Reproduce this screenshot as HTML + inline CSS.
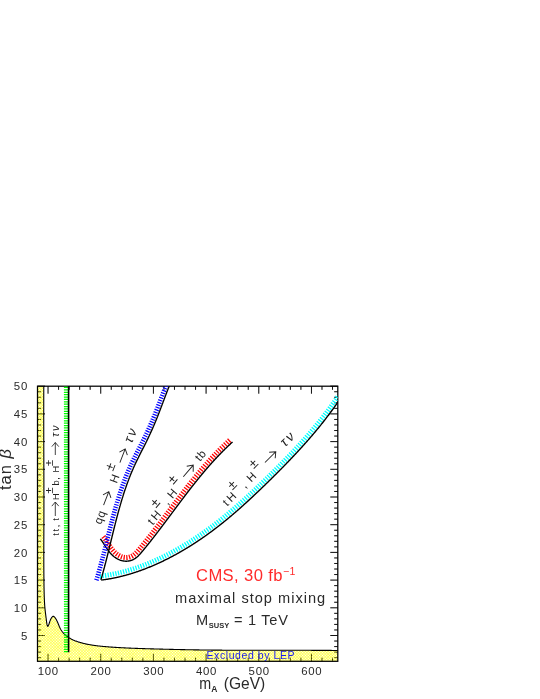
<!DOCTYPE html>
<html><head><meta charset="utf-8"><title>chart</title>
<style>html,body{margin:0;padding:0;background:#fff;}body{width:540px;height:699px;position:relative;overflow:hidden;font-family:"Liberation Sans",sans-serif;}</style>
</head><body>
<svg width="540" height="699" viewBox="0 0 540 699" style="position:absolute;left:0;top:0;will-change:transform" font-family="Liberation Sans, sans-serif">
<defs><pattern id="yh" width="2" height="2" patternUnits="userSpaceOnUse" patternTransform="rotate(45)"><rect width="2" height="0.52" fill="#ffff00"/><rect width="0.52" height="2" fill="#ffff00"/></pattern>
<clipPath id="cp"><rect x="37.5" y="386.2" width="300.3" height="275.09999999999997"/></clipPath></defs>
<path d="M37.50,661.3v-3.6M37.50,386.2v3.6M48.04,661.3v-7.5M48.04,386.2v7.5M58.57,661.3v-3.6M58.57,386.2v3.6M69.11,661.3v-3.6M69.11,386.2v3.6M79.65,661.3v-3.6M79.65,386.2v3.6M90.18,661.3v-3.6M90.18,386.2v3.6M100.72,661.3v-7.5M100.72,386.2v7.5M111.26,661.3v-3.6M111.26,386.2v3.6M121.79,661.3v-3.6M121.79,386.2v3.6M132.33,661.3v-3.6M132.33,386.2v3.6M142.87,661.3v-3.6M142.87,386.2v3.6M153.41,661.3v-7.5M153.41,386.2v7.5M163.94,661.3v-3.6M163.94,386.2v3.6M174.48,661.3v-3.6M174.48,386.2v3.6M185.02,661.3v-3.6M185.02,386.2v3.6M195.55,661.3v-3.6M195.55,386.2v3.6M206.09,661.3v-7.5M206.09,386.2v7.5M216.63,661.3v-3.6M216.63,386.2v3.6M227.16,661.3v-3.6M227.16,386.2v3.6M237.70,661.3v-3.6M237.70,386.2v3.6M248.24,661.3v-3.6M248.24,386.2v3.6M258.77,661.3v-7.5M258.77,386.2v7.5M269.31,661.3v-3.6M269.31,386.2v3.6M279.85,661.3v-3.6M279.85,386.2v3.6M290.38,661.3v-3.6M290.38,386.2v3.6M300.92,661.3v-3.6M300.92,386.2v3.6M311.46,661.3v-7.5M311.46,386.2v7.5M321.99,661.3v-3.6M321.99,386.2v3.6M332.53,661.3v-3.6M332.53,386.2v3.6M37.5,657.66h3.6M337.8,657.66h-3.6M37.5,652.12h3.6M337.8,652.12h-3.6M37.5,646.58h3.6M337.8,646.58h-3.6M37.5,641.04h3.6M337.8,641.04h-3.6M37.5,635.50h7.5M337.8,635.50h-7.5M37.5,629.96h3.6M337.8,629.96h-3.6M37.5,624.42h3.6M337.8,624.42h-3.6M37.5,618.88h3.6M337.8,618.88h-3.6M37.5,613.34h3.6M337.8,613.34h-3.6M37.5,607.80h7.5M337.8,607.80h-7.5M37.5,602.26h3.6M337.8,602.26h-3.6M37.5,596.72h3.6M337.8,596.72h-3.6M37.5,591.18h3.6M337.8,591.18h-3.6M37.5,585.64h3.6M337.8,585.64h-3.6M37.5,580.10h7.5M337.8,580.10h-7.5M37.5,574.56h3.6M337.8,574.56h-3.6M37.5,569.02h3.6M337.8,569.02h-3.6M37.5,563.48h3.6M337.8,563.48h-3.6M37.5,557.94h3.6M337.8,557.94h-3.6M37.5,552.40h7.5M337.8,552.40h-7.5M37.5,546.86h3.6M337.8,546.86h-3.6M37.5,541.32h3.6M337.8,541.32h-3.6M37.5,535.78h3.6M337.8,535.78h-3.6M37.5,530.24h3.6M337.8,530.24h-3.6M37.5,524.70h7.5M337.8,524.70h-7.5M37.5,519.16h3.6M337.8,519.16h-3.6M37.5,513.62h3.6M337.8,513.62h-3.6M37.5,508.08h3.6M337.8,508.08h-3.6M37.5,502.54h3.6M337.8,502.54h-3.6M37.5,497.00h7.5M337.8,497.00h-7.5M37.5,491.46h3.6M337.8,491.46h-3.6M37.5,485.92h3.6M337.8,485.92h-3.6M37.5,480.38h3.6M337.8,480.38h-3.6M37.5,474.84h3.6M337.8,474.84h-3.6M37.5,469.30h7.5M337.8,469.30h-7.5M37.5,463.76h3.6M337.8,463.76h-3.6M37.5,458.22h3.6M337.8,458.22h-3.6M37.5,452.68h3.6M337.8,452.68h-3.6M37.5,447.14h3.6M337.8,447.14h-3.6M37.5,441.60h7.5M337.8,441.60h-7.5M37.5,436.06h3.6M337.8,436.06h-3.6M37.5,430.52h3.6M337.8,430.52h-3.6M37.5,424.98h3.6M337.8,424.98h-3.6M37.5,419.44h3.6M337.8,419.44h-3.6M37.5,413.90h7.5M337.8,413.90h-7.5M37.5,408.36h3.6M337.8,408.36h-3.6M37.5,402.82h3.6M337.8,402.82h-3.6M37.5,397.28h3.6M337.8,397.28h-3.6M37.5,391.74h3.6M337.8,391.74h-3.6M37.5,386.20h7.5M337.8,386.20h-7.5" stroke="#000" stroke-width="0.9" fill="none"/>
<g clip-path="url(#cp)"><path d="M43.80,384.00 L43.80,384.61 L43.79,385.22 L43.79,385.82 L43.79,386.43 L43.79,387.04 L43.78,387.65 L43.78,388.26 L43.78,388.87 L43.78,389.48 L43.77,390.09 L43.77,390.70 L43.77,391.31 L43.77,391.92 L43.76,392.53 L43.76,393.14 L43.76,393.75 L43.76,394.36 L43.76,394.97 L43.75,395.58 L43.75,396.19 L43.75,396.80 L43.75,397.42 L43.75,398.03 L43.75,398.64 L43.75,399.25 L43.74,399.86 L43.74,400.48 L43.74,401.09 L43.74,401.70 L43.74,402.32 L43.74,402.93 L43.74,403.54 L43.74,404.16 L43.74,404.77 L43.74,405.38 L43.74,406.00 L43.74,406.61 L43.73,407.23 L43.73,407.84 L43.73,408.46 L43.73,409.07 L43.73,409.69 L43.73,410.30 L43.73,410.92 L43.73,411.53 L43.73,412.15 L43.73,412.76 L43.73,413.38 L43.73,413.99 L43.73,414.61 L43.73,415.22 L43.73,415.84 L43.73,416.46 L43.73,417.07 L43.73,417.69 L43.73,418.31 L43.74,418.92 L43.74,419.54 L43.74,420.16 L43.74,420.77 L43.74,421.39 L43.74,422.01 L43.74,422.62 L43.74,423.24 L43.74,423.86 L43.74,424.48 L43.74,425.09 L43.74,425.71 L43.74,426.33 L43.74,426.95 L43.75,427.57 L43.75,428.18 L43.75,428.80 L43.75,429.42 L43.75,430.04 L43.75,430.66 L43.75,431.27 L43.75,431.89 L43.76,432.51 L43.76,433.13 L43.76,433.75 L43.76,434.37 L43.76,434.99 L43.76,435.60 L43.76,436.22 L43.76,436.84 L43.77,437.46 L43.77,438.08 L43.77,438.70 L43.77,439.32 L43.77,439.94 L43.77,440.56 L43.78,441.18 L43.78,441.79 L43.78,442.41 L43.78,443.03 L43.78,443.65 L43.78,444.27 L43.79,444.89 L43.79,445.51 L43.79,446.13 L43.79,446.75 L43.79,447.37 L43.79,447.99 L43.80,448.61 L43.80,449.23 L43.80,449.85 L43.80,450.47 L43.80,451.08 L43.81,451.70 L43.81,452.32 L43.81,452.94 L43.81,453.56 L43.81,454.18 L43.81,454.80 L43.82,455.42 L43.82,456.04 L43.82,456.66 L43.82,457.28 L43.82,457.90 L43.83,458.52 L43.83,459.14 L43.83,459.76 L43.83,460.38 L43.83,460.99 L43.83,461.61 L43.84,462.23 L43.84,462.85 L43.84,463.47 L43.84,464.09 L43.84,464.71 L43.85,465.33 L43.85,465.95 L43.85,466.57 L43.85,467.18 L43.85,467.80 L43.86,468.42 L43.86,469.04 L43.86,469.66 L43.86,470.28 L43.86,470.90 L43.86,471.51 L43.87,472.13 L43.87,472.75 L43.87,473.37 L43.87,473.99 L43.87,474.61 L43.87,475.22 L43.88,475.84 L43.88,476.46 L43.88,477.08 L43.88,477.69 L43.88,478.31 L43.88,478.93 L43.88,479.55 L43.89,480.16 L43.89,480.78 L43.89,481.40 L43.89,482.02 L43.89,482.63 L43.89,483.25 L43.89,483.87 L43.90,484.48 L43.90,485.10 L43.90,485.72 L43.90,486.33 L43.90,486.95 L43.90,487.56 L43.90,488.18 L43.90,488.80 L43.91,489.41 L43.91,490.03 L43.91,490.64 L43.91,491.26 L43.91,491.87 L43.91,492.49 L43.91,493.10 L43.91,493.72 L43.91,494.33 L43.91,494.95 L43.91,495.56 L43.91,496.18 L43.91,496.79 L43.92,497.40 L43.92,498.02 L43.92,498.63 L43.92,499.25 L43.92,499.86 L43.92,500.47 L43.92,501.09 L43.92,501.70 L43.92,502.31 L43.92,502.92 L43.92,503.54 L43.92,504.15 L43.92,504.76 L43.92,505.37 L43.92,505.98 L43.92,506.60 L43.92,507.21 L43.92,507.82 L43.92,508.43 L43.92,509.04 L43.92,509.65 L43.92,510.26 L43.92,510.87 L43.91,511.48 L43.91,512.09 L43.91,512.70 L43.91,513.31 L43.91,513.92 L43.91,514.53 L43.91,515.14 L43.91,515.75 L43.91,516.36 L43.91,516.96 L43.91,517.57 L43.90,518.18 L43.90,518.79 L43.90,519.39 L43.90,520.00 L43.90,520.61 L43.90,521.22 L43.90,521.82 L43.89,522.43 L43.89,523.03 L43.89,523.64 L43.89,524.25 L43.89,524.85 L43.88,525.46 L43.88,526.06 L43.88,526.67 L43.88,527.27 L43.88,527.88 L43.87,528.48 L43.87,529.09 L43.87,529.69 L43.87,530.30 L43.86,530.90 L43.86,531.51 L43.86,532.11 L43.86,532.72 L43.86,533.32 L43.85,533.93 L43.85,534.53 L43.85,535.14 L43.85,535.74 L43.84,536.35 L43.84,536.95 L43.84,537.56 L43.84,538.16 L43.84,538.77 L43.83,539.38 L43.83,539.98 L43.83,540.59 L43.83,541.19 L43.83,541.80 L43.82,542.40 L43.82,543.01 L43.82,543.62 L43.82,544.22 L43.82,544.83 L43.82,545.44 L43.82,546.05 L43.81,546.65 L43.81,547.26 L43.81,547.87 L43.81,548.48 L43.81,549.09 L43.81,549.70 L43.81,550.31 L43.81,550.91 L43.81,551.52 L43.80,552.14 L43.80,552.75 L43.80,553.36 L43.80,553.97 L43.80,554.58 L43.80,555.19 L43.80,555.80 L43.80,556.42 L43.80,557.03 L43.80,557.64 L43.81,558.26 L43.81,558.87 L43.81,559.49 L43.81,560.10 L43.81,560.72 L43.81,561.34 L43.81,561.95 L43.81,562.57 L43.82,563.19 L43.82,563.81 L43.82,564.43 L43.82,565.05 L43.82,565.67 L43.83,566.29 L43.83,566.91 L43.83,567.53 L43.84,568.16 L43.84,568.78 L43.84,569.40 L43.85,570.03 L43.85,570.65 L43.85,571.28 L43.86,571.91 L43.86,572.53 L43.87,573.16 L43.87,573.79 L43.88,574.42 L43.88,575.05 L43.89,575.68 L43.90,576.31 L43.90,576.95 L43.91,577.58 L43.91,578.21 L43.92,578.85 L43.93,579.48 L43.94,580.12 L43.94,580.76 L43.95,581.40 L43.96,582.04 L43.97,582.68 L43.98,583.32 L43.99,583.96 L43.99,584.60 L44.00,585.24 L44.01,585.89 L44.02,586.53 L44.03,587.18 L44.04,587.82 L44.06,588.47 L44.07,589.12 L44.08,589.76 L44.09,590.41 L44.11,591.05 L44.12,591.69 L44.14,592.33 L44.15,592.97 L44.17,593.61 L44.19,594.25 L44.20,594.89 L44.22,595.52 L44.24,596.15 L44.26,596.78 L44.29,597.40 L44.31,598.02 L44.33,598.64 L44.36,599.26 L44.39,599.87 L44.41,600.48 L44.44,601.09 L44.48,601.69 L44.51,602.28 L44.54,602.87 L44.58,603.46 L44.61,604.04 L44.65,604.62 L44.69,605.19 L44.73,605.76 L44.77,606.32 L44.82,606.87 L44.87,607.42 L44.91,607.96 L44.97,608.50 L45.02,609.03 L45.07,609.56 L45.13,610.09 L45.19,610.63 L45.25,611.17 L45.31,611.71 L45.38,612.27 L45.45,612.84 L45.52,613.42 L45.59,614.01 L45.67,614.63 L45.75,615.26 L45.83,615.91 L45.92,616.59 L46.01,617.30 L46.10,618.03 L46.20,618.80 L46.30,619.59 L46.40,620.42 L46.51,621.27 L46.62,622.10 L46.74,622.92 L46.87,623.69 L47.00,624.40 L47.14,625.02 L47.28,625.55 L47.44,625.95 L47.60,626.20 L47.77,626.30 L47.95,626.22 L48.14,625.97 L48.35,625.58 L48.56,625.06 L48.79,624.45 L49.04,623.75 L49.29,622.99 L49.56,622.20 L49.85,621.39 L50.16,620.59 L50.48,619.82 L50.81,619.08 L51.16,618.41 L51.53,617.80 L51.90,617.28 L52.29,616.87 L52.68,616.58 L53.08,616.42 L53.49,616.41 L53.90,616.56 L54.31,616.85 L54.73,617.25 L55.13,617.75 L55.53,618.32 L55.91,618.94 L56.28,619.60 L56.63,620.26 L56.96,620.92 L57.26,621.56 L57.55,622.18 L57.82,622.79 L58.07,623.39 L58.32,623.98 L58.55,624.55 L58.78,625.12 L59.01,625.67 L59.23,626.22 L59.46,626.75 L59.69,627.28 L59.92,627.80 L60.17,628.31 L60.43,628.82 L60.70,629.32 L60.99,629.82 L61.30,630.31 L61.62,630.80 L61.97,631.28 L62.33,631.76 L62.71,632.23 L63.11,632.70 L63.52,633.16 L63.95,633.62 L64.39,634.06 L64.85,634.50 L65.31,634.92 L65.79,635.34 L66.27,635.75 L66.77,636.15 L67.27,636.53 L67.79,636.91 L68.30,637.27 L68.83,637.62 L69.36,637.95 L69.89,638.27 L70.43,638.59 L70.97,638.88 L71.52,639.17 L72.07,639.45 L72.63,639.72 L73.19,639.98 L73.75,640.22 L74.31,640.46 L74.88,640.70 L75.46,640.92 L76.03,641.13 L76.61,641.34 L77.19,641.54 L77.77,641.74 L78.36,641.93 L78.95,642.11 L79.53,642.29 L80.12,642.47 L80.71,642.64 L81.31,642.80 L81.90,642.96 L82.50,643.12 L83.09,643.27 L83.69,643.42 L84.29,643.56 L84.89,643.70 L85.49,643.84 L86.09,643.97 L86.70,644.10 L87.30,644.22 L87.90,644.34 L88.51,644.46 L89.11,644.57 L89.72,644.68 L90.33,644.79 L90.94,644.89 L91.54,644.99 L92.15,645.09 L92.76,645.19 L93.37,645.28 L93.98,645.37 L94.59,645.46 L95.20,645.54 L95.81,645.62 L96.42,645.70 L97.03,645.78 L97.64,645.85 L98.25,645.93 L98.86,646.00 L99.48,646.07 L100.09,646.13 L100.70,646.20 L101.31,646.26 L101.92,646.32 L102.54,646.38 L103.15,646.44 L103.76,646.50 L104.38,646.55 L104.99,646.60 L105.60,646.66 L106.22,646.71 L106.83,646.76 L107.44,646.81 L108.06,646.85 L108.67,646.90 L109.28,646.95 L109.90,646.99 L110.51,647.04 L111.13,647.08 L111.74,647.12 L112.35,647.17 L112.97,647.21 L113.58,647.25 L114.20,647.29 L114.81,647.33 L115.42,647.37 L116.04,647.41 L116.65,647.44 L117.27,647.48 L117.88,647.52 L118.50,647.55 L119.11,647.59 L119.72,647.62 L120.34,647.66 L120.95,647.69 L121.57,647.72 L122.18,647.76 L122.80,647.79 L123.41,647.82 L124.03,647.85 L124.64,647.88 L125.26,647.91 L125.87,647.94 L126.48,647.97 L127.10,648.00 L127.71,648.03 L128.33,648.06 L128.94,648.08 L129.56,648.11 L130.17,648.14 L130.79,648.16 L131.40,648.19 L132.02,648.21 L132.63,648.24 L133.25,648.26 L133.86,648.29 L134.48,648.31 L135.09,648.33 L135.71,648.36 L136.32,648.38 L136.94,648.40 L137.55,648.42 L138.17,648.44 L138.78,648.47 L139.40,648.49 L140.01,648.51 L140.63,648.53 L141.24,648.55 L141.86,648.57 L142.47,648.59 L143.09,648.61 L143.70,648.63 L144.32,648.65 L144.93,648.67 L145.55,648.68 L146.17,648.70 L146.78,648.72 L147.40,648.74 L148.01,648.76 L148.63,648.78 L149.24,648.79 L149.86,648.81 L150.47,648.83 L151.09,648.85 L151.70,648.86 L152.32,648.88 L152.93,648.90 L153.55,648.92 L154.16,648.93 L154.78,648.95 L155.39,648.97 L156.01,648.98 L156.62,649.00 L157.24,649.02 L157.85,649.03 L158.47,649.05 L159.09,649.07 L159.70,649.08 L160.32,649.10 L160.93,649.11 L161.55,649.13 L162.16,649.15 L162.78,649.16 L163.39,649.18 L164.01,649.19 L164.62,649.21 L165.24,649.22 L165.85,649.24 L166.47,649.26 L167.08,649.27 L167.70,649.29 L168.31,649.30 L168.93,649.32 L169.54,649.33 L170.16,649.35 L170.77,649.36 L171.39,649.37 L172.01,649.39 L172.62,649.40 L173.24,649.42 L173.85,649.43 L174.47,649.45 L175.08,649.46 L175.70,649.47 L176.31,649.49 L176.93,649.50 L177.54,649.51 L178.16,649.53 L178.77,649.54 L179.39,649.55 L180.00,649.57 L180.62,649.58 L181.23,649.59 L181.85,649.61 L182.46,649.62 L183.08,649.63 L183.70,649.64 L184.31,649.66 L184.93,649.67 L185.54,649.68 L186.16,649.69 L186.77,649.70 L187.39,649.72 L188.00,649.73 L188.62,649.74 L189.23,649.75 L189.85,649.76 L190.46,649.77 L191.08,649.78 L191.69,649.80 L192.31,649.81 L192.92,649.82 L193.54,649.83 L194.15,649.84 L194.77,649.85 L195.39,649.86 L196.00,649.87 L196.62,649.88 L197.23,649.89 L197.85,649.90 L198.46,649.91 L199.08,649.92 L199.69,649.93 L200.31,649.93 L200.92,649.94 L201.54,649.95 L202.15,649.96 L202.77,649.97 L203.38,649.98 L204.00,649.99 L204.61,649.99 L205.23,650.00 L205.85,650.01 L206.46,650.02 L207.08,650.03 L207.69,650.03 L208.31,650.04 L208.92,650.05 L209.54,650.06 L210.15,650.06 L210.77,650.07 L211.38,650.08 L212.00,650.08 L212.61,650.09 L213.23,650.10 L213.84,650.10 L214.46,650.11 L215.07,650.11 L215.69,650.12 L216.31,650.12 L216.92,650.13 L217.54,650.14 L218.15,650.14 L218.77,650.15 L219.38,650.15 L220.00,650.16 L220.61,650.16 L221.23,650.17 L221.84,650.17 L222.46,650.18 L223.07,650.18 L223.69,650.18 L224.31,650.19 L224.92,650.19 L225.54,650.20 L226.15,650.20 L226.77,650.20 L227.38,650.21 L228.00,650.21 L228.61,650.22 L229.23,650.22 L229.84,650.22 L230.46,650.23 L231.07,650.23 L231.69,650.23 L232.31,650.23 L232.92,650.24 L233.54,650.24 L234.15,650.24 L234.77,650.25 L235.38,650.25 L236.00,650.25 L236.61,650.25 L237.23,650.26 L237.84,650.26 L238.46,650.26 L239.07,650.26 L239.69,650.26 L240.31,650.27 L240.92,650.27 L241.54,650.27 L242.15,650.27 L242.77,650.27 L243.38,650.28 L244.00,650.28 L244.61,650.28 L245.23,650.28 L245.84,650.28 L246.46,650.28 L247.07,650.28 L247.69,650.29 L248.31,650.29 L248.92,650.29 L249.54,650.29 L250.15,650.29 L250.77,650.29 L251.38,650.29 L252.00,650.29 L252.61,650.29 L253.23,650.29 L253.84,650.29 L254.46,650.29 L255.08,650.30 L255.69,650.30 L256.31,650.30 L256.92,650.30 L257.54,650.30 L258.15,650.30 L258.77,650.30 L259.38,650.30 L260.00,650.30 L260.61,650.30 L261.23,650.30 L261.84,650.30 L262.46,650.30 L263.08,650.30 L263.69,650.30 L264.31,650.30 L264.92,650.30 L265.54,650.30 L266.15,650.30 L266.77,650.30 L267.38,650.30 L268.00,650.30 L268.61,650.30 L269.23,650.30 L269.85,650.30 L270.46,650.30 L271.08,650.30 L271.69,650.30 L272.31,650.30 L272.92,650.30 L273.54,650.30 L274.15,650.30 L274.77,650.30 L275.38,650.30 L276.00,650.30 L276.62,650.30 L277.23,650.30 L277.85,650.30 L278.46,650.30 L279.08,650.30 L279.69,650.30 L280.31,650.30 L280.92,650.30 L281.54,650.30 L282.15,650.30 L282.77,650.30 L283.38,650.30 L284.00,650.30 L284.62,650.30 L285.23,650.30 L285.85,650.30 L286.46,650.30 L287.08,650.30 L287.69,650.30 L288.31,650.30 L288.92,650.30 L289.54,650.30 L290.15,650.30 L290.77,650.30 L291.39,650.30 L292.00,650.30 L292.62,650.30 L293.23,650.30 L293.85,650.30 L294.46,650.30 L295.08,650.30 L295.69,650.30 L296.31,650.30 L296.92,650.30 L297.54,650.30 L298.15,650.30 L298.77,650.30 L299.39,650.30 L300.00,650.30 L300.62,650.30 L301.23,650.30 L301.85,650.31 L302.46,650.31 L303.08,650.31 L303.69,650.31 L304.31,650.31 L304.92,650.31 L305.54,650.31 L306.16,650.31 L306.77,650.31 L307.39,650.32 L308.00,650.32 L308.62,650.32 L309.23,650.32 L309.85,650.32 L310.46,650.32 L311.08,650.32 L311.69,650.33 L312.31,650.33 L312.92,650.33 L313.54,650.33 L314.16,650.33 L314.77,650.34 L315.39,650.34 L316.00,650.34 L316.62,650.34 L317.23,650.35 L317.85,650.35 L318.46,650.35 L319.08,650.35 L319.69,650.36 L320.31,650.36 L320.92,650.36 L321.54,650.36 L322.16,650.37 L322.77,650.37 L323.39,650.37 L324.00,650.38 L324.62,650.38 L325.23,650.38 L325.85,650.39 L326.46,650.39 L327.08,650.40 L327.69,650.40 L328.31,650.40 L328.92,650.41 L329.54,650.41 L330.15,650.42 L330.77,650.42 L331.39,650.42 L332.00,650.43 L332.62,650.43 L333.23,650.44 L333.85,650.44 L334.46,650.45 L335.08,650.45 L335.69,650.46 L336.31,650.46 L336.92,650.47 L337.54,650.48 L338.15,650.48 L338.77,650.49 L339.38,650.49 L340.00,650.50 L340.8,661.3 L37.5,661.3 L37.5,383.2 Z" fill="url(#yh)" stroke="none"/>
<path d="M43.80,384.00 L43.80,384.61 L43.79,385.22 L43.79,385.82 L43.79,386.43 L43.79,387.04 L43.78,387.65 L43.78,388.26 L43.78,388.87 L43.78,389.48 L43.77,390.09 L43.77,390.70 L43.77,391.31 L43.77,391.92 L43.76,392.53 L43.76,393.14 L43.76,393.75 L43.76,394.36 L43.76,394.97 L43.75,395.58 L43.75,396.19 L43.75,396.80 L43.75,397.42 L43.75,398.03 L43.75,398.64 L43.75,399.25 L43.74,399.86 L43.74,400.48 L43.74,401.09 L43.74,401.70 L43.74,402.32 L43.74,402.93 L43.74,403.54 L43.74,404.16 L43.74,404.77 L43.74,405.38 L43.74,406.00 L43.74,406.61 L43.73,407.23 L43.73,407.84 L43.73,408.46 L43.73,409.07 L43.73,409.69 L43.73,410.30 L43.73,410.92 L43.73,411.53 L43.73,412.15 L43.73,412.76 L43.73,413.38 L43.73,413.99 L43.73,414.61 L43.73,415.22 L43.73,415.84 L43.73,416.46 L43.73,417.07 L43.73,417.69 L43.73,418.31 L43.74,418.92 L43.74,419.54 L43.74,420.16 L43.74,420.77 L43.74,421.39 L43.74,422.01 L43.74,422.62 L43.74,423.24 L43.74,423.86 L43.74,424.48 L43.74,425.09 L43.74,425.71 L43.74,426.33 L43.74,426.95 L43.75,427.57 L43.75,428.18 L43.75,428.80 L43.75,429.42 L43.75,430.04 L43.75,430.66 L43.75,431.27 L43.75,431.89 L43.76,432.51 L43.76,433.13 L43.76,433.75 L43.76,434.37 L43.76,434.99 L43.76,435.60 L43.76,436.22 L43.76,436.84 L43.77,437.46 L43.77,438.08 L43.77,438.70 L43.77,439.32 L43.77,439.94 L43.77,440.56 L43.78,441.18 L43.78,441.79 L43.78,442.41 L43.78,443.03 L43.78,443.65 L43.78,444.27 L43.79,444.89 L43.79,445.51 L43.79,446.13 L43.79,446.75 L43.79,447.37 L43.79,447.99 L43.80,448.61 L43.80,449.23 L43.80,449.85 L43.80,450.47 L43.80,451.08 L43.81,451.70 L43.81,452.32 L43.81,452.94 L43.81,453.56 L43.81,454.18 L43.81,454.80 L43.82,455.42 L43.82,456.04 L43.82,456.66 L43.82,457.28 L43.82,457.90 L43.83,458.52 L43.83,459.14 L43.83,459.76 L43.83,460.38 L43.83,460.99 L43.83,461.61 L43.84,462.23 L43.84,462.85 L43.84,463.47 L43.84,464.09 L43.84,464.71 L43.85,465.33 L43.85,465.95 L43.85,466.57 L43.85,467.18 L43.85,467.80 L43.86,468.42 L43.86,469.04 L43.86,469.66 L43.86,470.28 L43.86,470.90 L43.86,471.51 L43.87,472.13 L43.87,472.75 L43.87,473.37 L43.87,473.99 L43.87,474.61 L43.87,475.22 L43.88,475.84 L43.88,476.46 L43.88,477.08 L43.88,477.69 L43.88,478.31 L43.88,478.93 L43.88,479.55 L43.89,480.16 L43.89,480.78 L43.89,481.40 L43.89,482.02 L43.89,482.63 L43.89,483.25 L43.89,483.87 L43.90,484.48 L43.90,485.10 L43.90,485.72 L43.90,486.33 L43.90,486.95 L43.90,487.56 L43.90,488.18 L43.90,488.80 L43.91,489.41 L43.91,490.03 L43.91,490.64 L43.91,491.26 L43.91,491.87 L43.91,492.49 L43.91,493.10 L43.91,493.72 L43.91,494.33 L43.91,494.95 L43.91,495.56 L43.91,496.18 L43.91,496.79 L43.92,497.40 L43.92,498.02 L43.92,498.63 L43.92,499.25 L43.92,499.86 L43.92,500.47 L43.92,501.09 L43.92,501.70 L43.92,502.31 L43.92,502.92 L43.92,503.54 L43.92,504.15 L43.92,504.76 L43.92,505.37 L43.92,505.98 L43.92,506.60 L43.92,507.21 L43.92,507.82 L43.92,508.43 L43.92,509.04 L43.92,509.65 L43.92,510.26 L43.92,510.87 L43.91,511.48 L43.91,512.09 L43.91,512.70 L43.91,513.31 L43.91,513.92 L43.91,514.53 L43.91,515.14 L43.91,515.75 L43.91,516.36 L43.91,516.96 L43.91,517.57 L43.90,518.18 L43.90,518.79 L43.90,519.39 L43.90,520.00 L43.90,520.61 L43.90,521.22 L43.90,521.82 L43.89,522.43 L43.89,523.03 L43.89,523.64 L43.89,524.25 L43.89,524.85 L43.88,525.46 L43.88,526.06 L43.88,526.67 L43.88,527.27 L43.88,527.88 L43.87,528.48 L43.87,529.09 L43.87,529.69 L43.87,530.30 L43.86,530.90 L43.86,531.51 L43.86,532.11 L43.86,532.72 L43.86,533.32 L43.85,533.93 L43.85,534.53 L43.85,535.14 L43.85,535.74 L43.84,536.35 L43.84,536.95 L43.84,537.56 L43.84,538.16 L43.84,538.77 L43.83,539.38 L43.83,539.98 L43.83,540.59 L43.83,541.19 L43.83,541.80 L43.82,542.40 L43.82,543.01 L43.82,543.62 L43.82,544.22 L43.82,544.83 L43.82,545.44 L43.82,546.05 L43.81,546.65 L43.81,547.26 L43.81,547.87 L43.81,548.48 L43.81,549.09 L43.81,549.70 L43.81,550.31 L43.81,550.91 L43.81,551.52 L43.80,552.14 L43.80,552.75 L43.80,553.36 L43.80,553.97 L43.80,554.58 L43.80,555.19 L43.80,555.80 L43.80,556.42 L43.80,557.03 L43.80,557.64 L43.81,558.26 L43.81,558.87 L43.81,559.49 L43.81,560.10 L43.81,560.72 L43.81,561.34 L43.81,561.95 L43.81,562.57 L43.82,563.19 L43.82,563.81 L43.82,564.43 L43.82,565.05 L43.82,565.67 L43.83,566.29 L43.83,566.91 L43.83,567.53 L43.84,568.16 L43.84,568.78 L43.84,569.40 L43.85,570.03 L43.85,570.65 L43.85,571.28 L43.86,571.91 L43.86,572.53 L43.87,573.16 L43.87,573.79 L43.88,574.42 L43.88,575.05 L43.89,575.68 L43.90,576.31 L43.90,576.95 L43.91,577.58 L43.91,578.21 L43.92,578.85 L43.93,579.48 L43.94,580.12 L43.94,580.76 L43.95,581.40 L43.96,582.04 L43.97,582.68 L43.98,583.32 L43.99,583.96 L43.99,584.60 L44.00,585.24 L44.01,585.89 L44.02,586.53 L44.03,587.18 L44.04,587.82 L44.06,588.47 L44.07,589.12 L44.08,589.76 L44.09,590.41 L44.11,591.05 L44.12,591.69 L44.14,592.33 L44.15,592.97 L44.17,593.61 L44.19,594.25 L44.20,594.89 L44.22,595.52 L44.24,596.15 L44.26,596.78 L44.29,597.40 L44.31,598.02 L44.33,598.64 L44.36,599.26 L44.39,599.87 L44.41,600.48 L44.44,601.09 L44.48,601.69 L44.51,602.28 L44.54,602.87 L44.58,603.46 L44.61,604.04 L44.65,604.62 L44.69,605.19 L44.73,605.76 L44.77,606.32 L44.82,606.87 L44.87,607.42 L44.91,607.96 L44.97,608.50 L45.02,609.03 L45.07,609.56 L45.13,610.09 L45.19,610.63 L45.25,611.17 L45.31,611.71 L45.38,612.27 L45.45,612.84 L45.52,613.42 L45.59,614.01 L45.67,614.63 L45.75,615.26 L45.83,615.91 L45.92,616.59 L46.01,617.30 L46.10,618.03 L46.20,618.80 L46.30,619.59 L46.40,620.42 L46.51,621.27 L46.62,622.10 L46.74,622.92 L46.87,623.69 L47.00,624.40 L47.14,625.02 L47.28,625.55 L47.44,625.95 L47.60,626.20 L47.77,626.30 L47.95,626.22 L48.14,625.97 L48.35,625.58 L48.56,625.06 L48.79,624.45 L49.04,623.75 L49.29,622.99 L49.56,622.20 L49.85,621.39 L50.16,620.59 L50.48,619.82 L50.81,619.08 L51.16,618.41 L51.53,617.80 L51.90,617.28 L52.29,616.87 L52.68,616.58 L53.08,616.42 L53.49,616.41 L53.90,616.56 L54.31,616.85 L54.73,617.25 L55.13,617.75 L55.53,618.32 L55.91,618.94 L56.28,619.60 L56.63,620.26 L56.96,620.92 L57.26,621.56 L57.55,622.18 L57.82,622.79 L58.07,623.39 L58.32,623.98 L58.55,624.55 L58.78,625.12 L59.01,625.67 L59.23,626.22 L59.46,626.75 L59.69,627.28 L59.92,627.80 L60.17,628.31 L60.43,628.82 L60.70,629.32 L60.99,629.82 L61.30,630.31 L61.62,630.80 L61.97,631.28 L62.33,631.76 L62.71,632.23 L63.11,632.70 L63.52,633.16 L63.95,633.62 L64.39,634.06 L64.85,634.50 L65.31,634.92 L65.79,635.34 L66.27,635.75 L66.77,636.15 L67.27,636.53 L67.79,636.91 L68.30,637.27 L68.83,637.62 L69.36,637.95 L69.89,638.27 L70.43,638.59 L70.97,638.88 L71.52,639.17 L72.07,639.45 L72.63,639.72 L73.19,639.98 L73.75,640.22 L74.31,640.46 L74.88,640.70 L75.46,640.92 L76.03,641.13 L76.61,641.34 L77.19,641.54 L77.77,641.74 L78.36,641.93 L78.95,642.11 L79.53,642.29 L80.12,642.47 L80.71,642.64 L81.31,642.80 L81.90,642.96 L82.50,643.12 L83.09,643.27 L83.69,643.42 L84.29,643.56 L84.89,643.70 L85.49,643.84 L86.09,643.97 L86.70,644.10 L87.30,644.22 L87.90,644.34 L88.51,644.46 L89.11,644.57 L89.72,644.68 L90.33,644.79 L90.94,644.89 L91.54,644.99 L92.15,645.09 L92.76,645.19 L93.37,645.28 L93.98,645.37 L94.59,645.46 L95.20,645.54 L95.81,645.62 L96.42,645.70 L97.03,645.78 L97.64,645.85 L98.25,645.93 L98.86,646.00 L99.48,646.07 L100.09,646.13 L100.70,646.20 L101.31,646.26 L101.92,646.32 L102.54,646.38 L103.15,646.44 L103.76,646.50 L104.38,646.55 L104.99,646.60 L105.60,646.66 L106.22,646.71 L106.83,646.76 L107.44,646.81 L108.06,646.85 L108.67,646.90 L109.28,646.95 L109.90,646.99 L110.51,647.04 L111.13,647.08 L111.74,647.12 L112.35,647.17 L112.97,647.21 L113.58,647.25 L114.20,647.29 L114.81,647.33 L115.42,647.37 L116.04,647.41 L116.65,647.44 L117.27,647.48 L117.88,647.52 L118.50,647.55 L119.11,647.59 L119.72,647.62 L120.34,647.66 L120.95,647.69 L121.57,647.72 L122.18,647.76 L122.80,647.79 L123.41,647.82 L124.03,647.85 L124.64,647.88 L125.26,647.91 L125.87,647.94 L126.48,647.97 L127.10,648.00 L127.71,648.03 L128.33,648.06 L128.94,648.08 L129.56,648.11 L130.17,648.14 L130.79,648.16 L131.40,648.19 L132.02,648.21 L132.63,648.24 L133.25,648.26 L133.86,648.29 L134.48,648.31 L135.09,648.33 L135.71,648.36 L136.32,648.38 L136.94,648.40 L137.55,648.42 L138.17,648.44 L138.78,648.47 L139.40,648.49 L140.01,648.51 L140.63,648.53 L141.24,648.55 L141.86,648.57 L142.47,648.59 L143.09,648.61 L143.70,648.63 L144.32,648.65 L144.93,648.67 L145.55,648.68 L146.17,648.70 L146.78,648.72 L147.40,648.74 L148.01,648.76 L148.63,648.78 L149.24,648.79 L149.86,648.81 L150.47,648.83 L151.09,648.85 L151.70,648.86 L152.32,648.88 L152.93,648.90 L153.55,648.92 L154.16,648.93 L154.78,648.95 L155.39,648.97 L156.01,648.98 L156.62,649.00 L157.24,649.02 L157.85,649.03 L158.47,649.05 L159.09,649.07 L159.70,649.08 L160.32,649.10 L160.93,649.11 L161.55,649.13 L162.16,649.15 L162.78,649.16 L163.39,649.18 L164.01,649.19 L164.62,649.21 L165.24,649.22 L165.85,649.24 L166.47,649.26 L167.08,649.27 L167.70,649.29 L168.31,649.30 L168.93,649.32 L169.54,649.33 L170.16,649.35 L170.77,649.36 L171.39,649.37 L172.01,649.39 L172.62,649.40 L173.24,649.42 L173.85,649.43 L174.47,649.45 L175.08,649.46 L175.70,649.47 L176.31,649.49 L176.93,649.50 L177.54,649.51 L178.16,649.53 L178.77,649.54 L179.39,649.55 L180.00,649.57 L180.62,649.58 L181.23,649.59 L181.85,649.61 L182.46,649.62 L183.08,649.63 L183.70,649.64 L184.31,649.66 L184.93,649.67 L185.54,649.68 L186.16,649.69 L186.77,649.70 L187.39,649.72 L188.00,649.73 L188.62,649.74 L189.23,649.75 L189.85,649.76 L190.46,649.77 L191.08,649.78 L191.69,649.80 L192.31,649.81 L192.92,649.82 L193.54,649.83 L194.15,649.84 L194.77,649.85 L195.39,649.86 L196.00,649.87 L196.62,649.88 L197.23,649.89 L197.85,649.90 L198.46,649.91 L199.08,649.92 L199.69,649.93 L200.31,649.93 L200.92,649.94 L201.54,649.95 L202.15,649.96 L202.77,649.97 L203.38,649.98 L204.00,649.99 L204.61,649.99 L205.23,650.00 L205.85,650.01 L206.46,650.02 L207.08,650.03 L207.69,650.03 L208.31,650.04 L208.92,650.05 L209.54,650.06 L210.15,650.06 L210.77,650.07 L211.38,650.08 L212.00,650.08 L212.61,650.09 L213.23,650.10 L213.84,650.10 L214.46,650.11 L215.07,650.11 L215.69,650.12 L216.31,650.12 L216.92,650.13 L217.54,650.14 L218.15,650.14 L218.77,650.15 L219.38,650.15 L220.00,650.16 L220.61,650.16 L221.23,650.17 L221.84,650.17 L222.46,650.18 L223.07,650.18 L223.69,650.18 L224.31,650.19 L224.92,650.19 L225.54,650.20 L226.15,650.20 L226.77,650.20 L227.38,650.21 L228.00,650.21 L228.61,650.22 L229.23,650.22 L229.84,650.22 L230.46,650.23 L231.07,650.23 L231.69,650.23 L232.31,650.23 L232.92,650.24 L233.54,650.24 L234.15,650.24 L234.77,650.25 L235.38,650.25 L236.00,650.25 L236.61,650.25 L237.23,650.26 L237.84,650.26 L238.46,650.26 L239.07,650.26 L239.69,650.26 L240.31,650.27 L240.92,650.27 L241.54,650.27 L242.15,650.27 L242.77,650.27 L243.38,650.28 L244.00,650.28 L244.61,650.28 L245.23,650.28 L245.84,650.28 L246.46,650.28 L247.07,650.28 L247.69,650.29 L248.31,650.29 L248.92,650.29 L249.54,650.29 L250.15,650.29 L250.77,650.29 L251.38,650.29 L252.00,650.29 L252.61,650.29 L253.23,650.29 L253.84,650.29 L254.46,650.29 L255.08,650.30 L255.69,650.30 L256.31,650.30 L256.92,650.30 L257.54,650.30 L258.15,650.30 L258.77,650.30 L259.38,650.30 L260.00,650.30 L260.61,650.30 L261.23,650.30 L261.84,650.30 L262.46,650.30 L263.08,650.30 L263.69,650.30 L264.31,650.30 L264.92,650.30 L265.54,650.30 L266.15,650.30 L266.77,650.30 L267.38,650.30 L268.00,650.30 L268.61,650.30 L269.23,650.30 L269.85,650.30 L270.46,650.30 L271.08,650.30 L271.69,650.30 L272.31,650.30 L272.92,650.30 L273.54,650.30 L274.15,650.30 L274.77,650.30 L275.38,650.30 L276.00,650.30 L276.62,650.30 L277.23,650.30 L277.85,650.30 L278.46,650.30 L279.08,650.30 L279.69,650.30 L280.31,650.30 L280.92,650.30 L281.54,650.30 L282.15,650.30 L282.77,650.30 L283.38,650.30 L284.00,650.30 L284.62,650.30 L285.23,650.30 L285.85,650.30 L286.46,650.30 L287.08,650.30 L287.69,650.30 L288.31,650.30 L288.92,650.30 L289.54,650.30 L290.15,650.30 L290.77,650.30 L291.39,650.30 L292.00,650.30 L292.62,650.30 L293.23,650.30 L293.85,650.30 L294.46,650.30 L295.08,650.30 L295.69,650.30 L296.31,650.30 L296.92,650.30 L297.54,650.30 L298.15,650.30 L298.77,650.30 L299.39,650.30 L300.00,650.30 L300.62,650.30 L301.23,650.30 L301.85,650.31 L302.46,650.31 L303.08,650.31 L303.69,650.31 L304.31,650.31 L304.92,650.31 L305.54,650.31 L306.16,650.31 L306.77,650.31 L307.39,650.32 L308.00,650.32 L308.62,650.32 L309.23,650.32 L309.85,650.32 L310.46,650.32 L311.08,650.32 L311.69,650.33 L312.31,650.33 L312.92,650.33 L313.54,650.33 L314.16,650.33 L314.77,650.34 L315.39,650.34 L316.00,650.34 L316.62,650.34 L317.23,650.35 L317.85,650.35 L318.46,650.35 L319.08,650.35 L319.69,650.36 L320.31,650.36 L320.92,650.36 L321.54,650.36 L322.16,650.37 L322.77,650.37 L323.39,650.37 L324.00,650.38 L324.62,650.38 L325.23,650.38 L325.85,650.39 L326.46,650.39 L327.08,650.40 L327.69,650.40 L328.31,650.40 L328.92,650.41 L329.54,650.41 L330.15,650.42 L330.77,650.42 L331.39,650.42 L332.00,650.43 L332.62,650.43 L333.23,650.44 L333.85,650.44 L334.46,650.45 L335.08,650.45 L335.69,650.46 L336.31,650.46 L336.92,650.47 L337.54,650.48 L338.15,650.48 L338.77,650.49 L339.38,650.49 L340.00,650.50" fill="none" stroke="#000" stroke-width="1.1"/></g>
<path d="M37.50,661.3v-3.6M37.50,386.2v3.6M48.04,661.3v-7.5M48.04,386.2v7.5M58.57,661.3v-3.6M58.57,386.2v3.6M69.11,661.3v-3.6M69.11,386.2v3.6M79.65,661.3v-3.6M79.65,386.2v3.6M90.18,661.3v-3.6M90.18,386.2v3.6M100.72,661.3v-7.5M100.72,386.2v7.5M111.26,661.3v-3.6M111.26,386.2v3.6M121.79,661.3v-3.6M121.79,386.2v3.6M132.33,661.3v-3.6M132.33,386.2v3.6M142.87,661.3v-3.6M142.87,386.2v3.6M153.41,661.3v-7.5M153.41,386.2v7.5M163.94,661.3v-3.6M163.94,386.2v3.6M174.48,661.3v-3.6M174.48,386.2v3.6M185.02,661.3v-3.6M185.02,386.2v3.6M195.55,661.3v-3.6M195.55,386.2v3.6M206.09,661.3v-7.5M206.09,386.2v7.5M216.63,661.3v-3.6M216.63,386.2v3.6M227.16,661.3v-3.6M227.16,386.2v3.6M237.70,661.3v-3.6M237.70,386.2v3.6M248.24,661.3v-3.6M248.24,386.2v3.6M258.77,661.3v-7.5M258.77,386.2v7.5M269.31,661.3v-3.6M269.31,386.2v3.6M279.85,661.3v-3.6M279.85,386.2v3.6M290.38,661.3v-3.6M290.38,386.2v3.6M300.92,661.3v-3.6M300.92,386.2v3.6M311.46,661.3v-7.5M311.46,386.2v7.5M321.99,661.3v-3.6M321.99,386.2v3.6M332.53,661.3v-3.6M332.53,386.2v3.6M37.5,657.66h3.6M337.8,657.66h-3.6M37.5,652.12h3.6M337.8,652.12h-3.6M37.5,646.58h3.6M337.8,646.58h-3.6M37.5,641.04h3.6M337.8,641.04h-3.6M37.5,635.50h7.5M337.8,635.50h-7.5M37.5,629.96h3.6M337.8,629.96h-3.6M37.5,624.42h3.6M337.8,624.42h-3.6M37.5,618.88h3.6M337.8,618.88h-3.6M37.5,613.34h3.6M337.8,613.34h-3.6M37.5,607.80h7.5M337.8,607.80h-7.5M37.5,602.26h3.6M337.8,602.26h-3.6M37.5,596.72h3.6M337.8,596.72h-3.6M37.5,591.18h3.6M337.8,591.18h-3.6M37.5,585.64h3.6M337.8,585.64h-3.6M37.5,580.10h7.5M337.8,580.10h-7.5M37.5,574.56h3.6M337.8,574.56h-3.6M37.5,569.02h3.6M337.8,569.02h-3.6M37.5,563.48h3.6M337.8,563.48h-3.6M37.5,557.94h3.6M337.8,557.94h-3.6M37.5,552.40h7.5M337.8,552.40h-7.5M37.5,546.86h3.6M337.8,546.86h-3.6M37.5,541.32h3.6M337.8,541.32h-3.6M37.5,535.78h3.6M337.8,535.78h-3.6M37.5,530.24h3.6M337.8,530.24h-3.6M37.5,524.70h7.5M337.8,524.70h-7.5M37.5,519.16h3.6M337.8,519.16h-3.6M37.5,513.62h3.6M337.8,513.62h-3.6M37.5,508.08h3.6M337.8,508.08h-3.6M37.5,502.54h3.6M337.8,502.54h-3.6M37.5,497.00h7.5M337.8,497.00h-7.5M37.5,491.46h3.6M337.8,491.46h-3.6M37.5,485.92h3.6M337.8,485.92h-3.6M37.5,480.38h3.6M337.8,480.38h-3.6M37.5,474.84h3.6M337.8,474.84h-3.6M37.5,469.30h7.5M337.8,469.30h-7.5M37.5,463.76h3.6M337.8,463.76h-3.6M37.5,458.22h3.6M337.8,458.22h-3.6M37.5,452.68h3.6M337.8,452.68h-3.6M37.5,447.14h3.6M337.8,447.14h-3.6M37.5,441.60h7.5M337.8,441.60h-7.5M37.5,436.06h3.6M337.8,436.06h-3.6M37.5,430.52h3.6M337.8,430.52h-3.6M37.5,424.98h3.6M337.8,424.98h-3.6M37.5,419.44h3.6M337.8,419.44h-3.6M37.5,413.90h7.5M337.8,413.90h-7.5M37.5,408.36h3.6M337.8,408.36h-3.6M37.5,402.82h3.6M337.8,402.82h-3.6M37.5,397.28h3.6M337.8,397.28h-3.6M37.5,391.74h3.6M337.8,391.74h-3.6M37.5,386.20h7.5M337.8,386.20h-7.5" stroke="#000" stroke-width="0.9" fill="none" opacity="0.3"/>
<rect x="37.5" y="386.2" width="300.3" height="275.09999999999997" fill="none" stroke="#000" stroke-width="1.25"/>
<path d="M66.00,652.30 L66.00,650.80 L66.00,649.30 L66.00,647.80 L66.00,646.30 L66.00,644.80 L66.00,643.30 L66.00,641.80 L66.00,640.30 L66.00,638.80 L66.00,637.30 L66.00,635.80 L66.00,634.30 L66.00,632.80 L66.00,631.30 L66.00,629.80 L66.00,628.30 L66.00,626.80 L66.00,625.30 L66.00,623.80 L66.00,622.30 L66.00,620.80 L66.00,619.30 L66.00,617.80 L66.00,616.30 L66.00,614.80 L66.00,613.30 L66.00,611.80 L66.00,610.30 L66.00,608.80 L66.00,607.30 L66.00,605.80 L66.00,604.30 L66.00,602.80 L66.00,601.30 L66.00,599.80 L66.00,598.30 L66.00,596.80 L66.00,595.30 L66.00,593.80 L66.00,592.30 L66.00,590.80 L66.00,589.30 L66.00,587.80 L66.00,586.30 L66.00,584.80 L66.00,583.30 L66.00,581.80 L66.00,580.30 L66.00,578.80 L66.00,577.30 L66.00,575.80 L66.00,574.30 L66.00,572.80 L66.00,571.30 L66.00,569.80 L66.00,568.30 L66.00,566.80 L66.00,565.30 L66.00,563.80 L66.00,562.30 L66.00,560.80 L66.00,559.30 L66.00,557.80 L66.00,556.30 L66.00,554.80 L66.00,553.30 L66.00,551.80 L66.00,550.30 L66.00,548.80 L66.00,547.30 L66.00,545.80 L66.00,544.30 L66.00,542.80 L66.00,541.30 L66.00,539.80 L66.00,538.30 L66.00,536.80 L66.00,535.30 L66.00,533.80 L66.00,532.30 L66.00,530.80 L66.00,529.30 L66.00,527.80 L66.00,526.30 L66.00,524.80 L66.00,523.30 L66.00,521.80 L66.00,520.30 L66.00,518.80 L66.00,517.30 L66.00,515.80 L66.00,514.30 L66.00,512.80 L66.00,511.30 L66.00,509.80 L66.00,508.30 L66.00,506.80 L66.00,505.30 L66.00,503.80 L66.00,502.30 L66.00,500.80 L66.00,499.30 L66.00,497.80 L66.00,496.30 L66.00,494.80 L66.00,493.30 L66.00,491.80 L66.00,490.30 L66.00,488.80 L66.00,487.30 L66.00,485.80 L66.00,484.30 L66.00,482.80 L66.00,481.30 L66.00,479.80 L66.00,478.30 L66.00,476.80 L66.00,475.30 L66.00,473.80 L66.00,472.30 L66.00,470.80 L66.00,469.30 L66.00,467.80 L66.00,466.30 L66.00,464.80 L66.00,463.30 L66.00,461.80 L66.00,460.30 L66.00,458.80 L66.00,457.30 L66.00,455.80 L66.00,454.30 L66.00,452.80 L66.00,451.30 L66.00,449.80 L66.00,448.30 L66.00,446.80 L66.00,445.30 L66.00,443.80 L66.00,442.30 L66.00,440.80 L66.00,439.30 L66.00,437.80 L66.00,436.30 L66.00,434.80 L66.00,433.30 L66.00,431.80 L66.00,430.30 L66.00,428.80 L66.00,427.30 L66.00,425.80 L66.00,424.30 L66.00,422.80 L66.00,421.30 L66.00,419.80 L66.00,418.30 L66.00,416.80 L66.00,415.30 L66.00,413.80 L66.00,412.30 L66.00,410.80 L66.00,409.30 L66.00,407.80 L66.00,406.30 L66.00,404.80 L66.00,403.30 L66.00,401.80 L66.00,400.30 L66.00,398.80 L66.00,397.30 L66.00,395.80 L66.00,394.30 L66.00,392.80 L66.00,391.30 L66.00,389.80 L66.00,388.30 L66.00,386.80" stroke="#00ff00" stroke-width="4.2" stroke-dasharray="1.25 1.13" stroke-dashoffset="-0.0" fill="none"/>
<path d="M68.6,652.3 V386.2" stroke="#000" stroke-width="1.6" fill="none"/>
<g clip-path="url(#cp)"><path d="M99.79,576.23 L101.98,575.95 L103.78,575.71 L105.56,575.46 L107.34,575.18 L109.11,574.88 L110.88,574.57 L112.64,574.23 L114.41,573.88 L116.16,573.50 L117.92,573.11 L119.67,572.70 L121.41,572.28 L123.16,571.83 L124.90,571.37 L126.63,570.89 L128.36,570.39 L130.09,569.88 L131.81,569.35 L133.52,568.81 L135.24,568.24 L136.94,567.67 L138.65,567.07 L140.35,566.47 L142.04,565.85 L143.73,565.21 L145.42,564.56 L147.10,563.89 L148.77,563.21 L150.44,562.52 L152.11,561.82 L153.77,561.10 L155.42,560.37 L157.07,559.62 L158.72,558.87 L160.36,558.10 L161.99,557.32 L163.62,556.53 L165.24,555.73 L166.86,554.92 L168.47,554.09 L170.08,553.26 L171.68,552.41 L173.28,551.55 L174.87,550.68 L176.45,549.80 L178.03,548.92 L179.61,548.02 L181.17,547.11 L182.74,546.19 L184.30,545.26 L185.85,544.32 L187.40,543.37 L188.94,542.41 L190.47,541.44 L192.00,540.46 L193.53,539.48 L195.05,538.48 L196.57,537.48 L198.08,536.47 L199.58,535.44 L201.08,534.41 L202.57,533.37 L204.06,532.33 L205.55,531.27 L207.02,530.21 L208.50,529.14 L209.97,528.06 L211.43,526.97 L212.88,525.88 L214.34,524.78 L215.78,523.67 L217.22,522.55 L218.66,521.43 L220.09,520.30 L221.52,519.16 L222.94,518.02 L224.35,516.87 L225.76,515.72 L227.17,514.56 L228.57,513.39 L229.97,512.21 L231.36,511.03 L232.74,509.85 L234.12,508.66 L235.50,507.46 L236.87,506.26 L238.24,505.05 L239.61,503.84 L240.97,502.62 L242.33,501.40 L243.68,500.18 L245.03,498.95 L246.38,497.72 L247.73,496.48 L249.07,495.24 L250.41,493.99 L251.75,492.75 L253.09,491.50 L254.42,490.24 L255.75,488.99 L257.08,487.73 L258.41,486.47 L259.73,485.20 L261.05,483.93 L262.37,482.67 L263.69,481.39 L265.01,480.12 L266.32,478.84 L267.63,477.56 L268.94,476.28 L270.25,475.00 L271.55,473.71 L272.85,472.42 L274.15,471.13 L275.45,469.84 L276.75,468.54 L278.04,467.25 L279.33,465.95 L280.62,464.64 L281.90,463.34 L283.18,462.03 L284.46,460.72 L285.74,459.41 L287.01,458.09 L288.28,456.77 L289.54,455.45 L290.80,454.13 L292.06,452.80 L293.31,451.47 L294.56,450.13 L295.81,448.79 L297.05,447.45 L298.29,446.11 L299.52,444.76 L300.75,443.41 L301.98,442.05 L303.20,440.69 L304.41,439.33 L305.62,437.96 L306.83,436.59 L308.03,435.22 L309.22,433.84 L310.41,432.45 L311.60,431.06 L312.78,429.67 L313.95,428.28 L315.12,426.87 L316.28,425.47 L317.43,424.06 L318.58,422.64 L319.72,421.22 L320.86,419.80 L321.99,418.37 L323.11,416.93 L324.23,415.49 L325.34,414.04 L326.44,412.59 L327.53,411.13 L328.62,409.67 L329.70,408.20 L330.77,406.72 L331.83,405.24 L332.89,403.75 L333.93,402.26 L334.97,400.76 L336.00,399.25 L338.37,395.75" stroke="#00ffff" stroke-width="4.8" stroke-dasharray="1.28 1.34" stroke-dashoffset="0" fill="none"/></g>
<path d="M101.29,580.07 L101.90,579.99 L102.51,579.91 L103.12,579.83 L103.73,579.75 L104.34,579.66 L104.95,579.58 L105.56,579.49 L106.16,579.39 L106.77,579.30 L107.38,579.20 L107.98,579.11 L108.59,579.00 L109.19,578.90 L109.80,578.80 L110.40,578.69 L111.01,578.58 L111.61,578.47 L112.21,578.35 L112.81,578.24 L113.42,578.12 L114.02,578.00 L114.62,577.87 L115.22,577.75 L115.82,577.62 L116.42,577.49 L117.02,577.36 L117.61,577.23 L118.21,577.09 L118.81,576.96 L119.41,576.82 L120.00,576.68 L120.60,576.53 L121.19,576.39 L121.79,576.24 L122.38,576.09 L122.97,575.94 L123.57,575.79 L124.16,575.63 L124.75,575.47 L125.34,575.31 L125.93,575.15 L126.52,574.99 L127.11,574.83 L127.70,574.66 L128.29,574.49 L128.88,574.32 L129.47,574.15 L130.05,573.97 L130.64,573.80 L131.23,573.62 L131.81,573.44 L132.40,573.26 L132.98,573.07 L133.57,572.89 L134.15,572.70 L134.73,572.51 L135.31,572.32 L135.90,572.13 L136.48,571.93 L137.06,571.74 L137.64,571.54 L138.22,571.34 L138.79,571.14 L139.37,570.94 L139.95,570.73 L140.53,570.53 L141.10,570.32 L141.68,570.11 L142.25,569.90 L142.83,569.68 L143.40,569.47 L143.98,569.25 L144.55,569.04 L145.12,568.82 L145.69,568.59 L146.26,568.37 L146.83,568.15 L147.40,567.92 L147.97,567.70 L148.54,567.47 L149.11,567.24 L149.68,567.00 L150.24,566.77 L150.81,566.54 L151.37,566.30 L151.94,566.06 L152.50,565.82 L153.07,565.58 L153.63,565.34 L154.19,565.10 L154.75,564.85 L155.31,564.61 L155.88,564.36 L156.43,564.11 L156.99,563.86 L157.55,563.61 L158.11,563.35 L158.67,563.10 L159.22,562.84 L159.78,562.58 L160.34,562.33 L160.89,562.07 L161.44,561.80 L162.00,561.54 L162.55,561.28 L163.10,561.01 L163.65,560.75 L164.20,560.48 L164.75,560.21 L165.30,559.94 L165.85,559.67 L166.40,559.39 L166.95,559.12 L167.49,558.85 L168.04,558.57 L168.59,558.29 L169.13,558.01 L169.67,557.73 L170.22,557.45 L170.76,557.17 L171.30,556.88 L171.84,556.60 L172.39,556.31 L172.93,556.02 L173.47,555.73 L174.00,555.44 L174.54,555.15 L175.08,554.86 L175.62,554.57 L176.15,554.27 L176.69,553.97 L177.23,553.68 L177.76,553.38 L178.29,553.08 L178.83,552.78 L179.36,552.48 L179.89,552.17 L180.42,551.87 L180.95,551.56 L181.48,551.26 L182.01,550.95 L182.54,550.64 L183.07,550.33 L183.60,550.02 L184.13,549.71 L184.65,549.40 L185.18,549.08 L185.70,548.77 L186.23,548.45 L186.75,548.13 L187.27,547.81 L187.80,547.49 L188.32,547.17 L188.84,546.85 L189.36,546.53 L189.88,546.20 L190.40,545.88 L190.92,545.55 L191.43,545.23 L191.95,544.90 L192.47,544.57 L192.99,544.24 L193.50,543.91 L194.02,543.57 L194.53,543.24 L195.04,542.91 L195.56,542.57 L196.07,542.24 L196.58,541.90 L197.09,541.56 L197.60,541.22 L198.11,540.88 L198.62,540.54 L199.13,540.20 L199.64,539.85 L200.15,539.51 L200.65,539.17 L201.16,538.82 L201.66,538.47 L202.17,538.13 L202.67,537.78 L203.18,537.43 L203.68,537.08 L204.18,536.72 L204.68,536.37 L205.19,536.02 L205.69,535.66 L206.19,535.31 L206.68,534.95 L207.18,534.60 L207.68,534.24 L208.18,533.88 L208.68,533.52 L209.17,533.16 L209.67,532.80 L210.16,532.44 L210.66,532.07 L211.15,531.71 L211.64,531.34 L212.14,530.98 L212.63,530.61 L213.12,530.25 L213.61,529.88 L214.10,529.51 L214.59,529.14 L215.08,528.77 L215.57,528.40 L216.05,528.02 L216.54,527.65 L217.03,527.28 L217.51,526.90 L218.00,526.53 L218.48,526.15 L218.97,525.78 L219.45,525.40 L219.93,525.02 L220.42,524.64 L220.90,524.26 L221.38,523.88 L221.86,523.50 L222.34,523.12 L222.82,522.73 L223.30,522.35 L223.77,521.97 L224.25,521.58 L224.73,521.19 L225.20,520.81 L225.68,520.42 L226.15,520.03 L226.63,519.64 L227.10,519.25 L227.58,518.87 L228.05,518.47 L228.52,518.08 L228.99,517.69 L229.46,517.30 L229.93,516.91 L230.40,516.51 L230.87,516.12 L231.34,515.72 L231.81,515.33 L232.27,514.93 L232.74,514.53 L233.21,514.13 L233.67,513.74 L234.14,513.34 L234.60,512.94 L235.06,512.54 L235.53,512.14 L235.99,511.73 L236.45,511.33 L236.91,510.93 L237.38,510.53 L237.84,510.12 L238.30,509.72 L238.76,509.31 L239.21,508.91 L239.67,508.50 L240.13,508.10 L240.59,507.69 L241.05,507.28 L241.50,506.88 L241.96,506.47 L242.42,506.06 L242.87,505.65 L243.33,505.24 L243.78,504.83 L244.24,504.42 L244.69,504.01 L245.14,503.60 L245.60,503.18 L246.05,502.77 L246.50,502.36 L246.95,501.95 L247.40,501.53 L247.85,501.12 L248.31,500.70 L248.76,500.29 L249.21,499.87 L249.65,499.46 L250.10,499.04 L250.55,498.62 L251.00,498.21 L251.45,497.79 L251.90,497.37 L252.35,496.96 L252.79,496.54 L253.24,496.12 L253.69,495.70 L254.13,495.28 L254.58,494.86 L255.02,494.44 L255.47,494.02 L255.92,493.60 L256.36,493.18 L256.80,492.76 L257.25,492.34 L257.69,491.92 L258.14,491.49 L258.58,491.07 L259.02,490.65 L259.47,490.23 L259.91,489.80 L260.35,489.38 L260.80,488.96 L261.24,488.53 L261.68,488.11 L262.12,487.68 L262.56,487.26 L263.00,486.83 L263.44,486.41 L263.88,485.98 L264.32,485.56 L264.76,485.13 L265.20,484.71 L265.64,484.28 L266.08,483.85 L266.52,483.42 L266.96,483.00 L267.40,482.57 L267.84,482.14 L268.27,481.71 L268.71,481.28 L269.15,480.86 L269.59,480.43 L270.02,480.00 L270.46,479.57 L270.90,479.14 L271.33,478.71 L271.77,478.28 L272.20,477.85 L272.64,477.42 L273.08,476.98 L273.51,476.55 L273.95,476.12 L274.38,475.69 L274.81,475.26 L275.25,474.82 L275.68,474.39 L276.12,473.96 L276.55,473.53 L276.98,473.09 L277.41,472.66 L277.85,472.22 L278.28,471.79 L278.71,471.36 L279.14,470.92 L279.57,470.49 L280.01,470.05 L280.44,469.62 L280.87,469.18 L281.30,468.74 L281.73,468.31 L282.16,467.87 L282.59,467.43 L283.02,467.00 L283.44,466.56 L283.87,466.12 L284.30,465.68 L284.73,465.24 L285.16,464.80 L285.58,464.36 L286.01,463.92 L286.44,463.48 L286.86,463.04 L287.29,462.60 L287.72,462.16 L288.14,461.72 L288.57,461.28 L288.99,460.84 L289.41,460.40 L289.84,459.95 L290.26,459.51 L290.68,459.07 L291.11,458.62 L291.53,458.18 L291.95,457.74 L292.37,457.29 L292.79,456.85 L293.21,456.40 L293.63,455.96 L294.05,455.51 L294.47,455.06 L294.89,454.62 L295.31,454.17 L295.73,453.72 L296.15,453.27 L296.57,452.83 L296.98,452.38 L297.40,451.93 L297.81,451.48 L298.23,451.03 L298.65,450.58 L299.06,450.13 L299.47,449.68 L299.89,449.22 L300.30,448.77 L300.72,448.32 L301.13,447.87 L301.54,447.41 L301.95,446.96 L302.36,446.51 L302.77,446.05 L303.18,445.60 L303.59,445.14 L304.00,444.69 L304.41,444.23 L304.82,443.77 L305.23,443.32 L305.63,442.86 L306.04,442.40 L306.45,441.94 L306.85,441.48 L307.26,441.02 L307.66,440.57 L308.07,440.11 L308.47,439.64 L308.87,439.18 L309.27,438.72 L309.68,438.26 L310.08,437.80 L310.48,437.33 L310.88,436.87 L311.28,436.41 L311.68,435.94 L312.08,435.48 L312.47,435.01 L312.87,434.55 L313.27,434.08 L313.66,433.61 L314.06,433.15 L314.45,432.68 L314.85,432.21 L315.24,431.74 L315.64,431.27 L316.03,430.80 L316.42,430.33 L316.81,429.86 L317.20,429.39 L317.59,428.92 L317.98,428.44 L318.37,427.97 L318.76,427.50 L319.14,427.02 L319.53,426.55 L319.92,426.07 L320.30,425.59 L320.69,425.12 L321.07,424.64 L321.45,424.16 L321.84,423.68 L322.22,423.21 L322.60,422.73 L322.98,422.25 L323.36,421.77 L323.74,421.28 L324.12,420.80 L324.49,420.32 L324.87,419.84 L325.25,419.35 L325.62,418.87 L325.99,418.38 L326.37,417.90 L326.74,417.41 L327.11,416.92 L327.48,416.44 L327.85,415.95 L328.22,415.46 L328.59,414.97 L328.96,414.48 L329.33,413.99 L329.69,413.50 L330.06,413.01 L330.42,412.51 L330.79,412.02 L331.15,411.53 L331.51,411.03 L331.88,410.54 L332.24,410.04 L332.60,409.54 L332.95,409.05 L333.31,408.55 L333.67,408.05 L334.03,407.55 L334.38,407.05 L334.74,406.55 L335.09,406.05 L335.44,405.54 L335.79,405.04 L336.14,404.54 L336.49,404.03 L336.84,403.53 L337.19,403.02 L337.54,402.51 L337.89,402.01 L338.23,401.50 L338.58,400.99 L338.92,400.48 L339.26,399.97" stroke="#000" stroke-width="1.4" fill="none" clip-path="url(#cp)" stroke-linejoin="round"/>
<path d="M103.36,536.58 L104.09,537.52 L104.80,538.49 L105.51,539.50 L106.20,540.52 L106.86,541.54 L107.51,542.55 L108.15,543.56 L108.79,544.56 L109.42,545.54 L110.06,546.50 L110.70,547.44 L111.35,548.35 L112.01,549.24 L112.69,550.09 L113.39,550.90 L114.11,551.68 L114.86,552.42 L115.63,553.12 L116.44,553.78 L117.27,554.40 L118.13,554.98 L119.00,555.50 L119.88,555.97 L120.77,556.37 L121.67,556.72 L122.58,557.01 L123.48,557.23 L124.39,557.39 L125.30,557.48 L126.21,557.50 L127.13,557.47 L128.03,557.37 L128.91,557.21 L129.77,556.98 L130.60,556.71 L131.39,556.37 L132.17,555.97 L132.93,555.51 L133.68,554.98 L134.43,554.39 L135.18,553.74 L135.92,553.04 L136.67,552.28 L137.41,551.48 L138.16,550.64 L138.91,549.77 L139.66,548.88 L140.42,547.96 L141.18,547.05 L141.94,546.13 L142.70,545.20 L143.45,544.28 L144.20,543.36 L144.95,542.43 L145.70,541.50 L146.45,540.57 L147.19,539.64 L147.93,538.71 L148.67,537.78 L149.41,536.85 L150.15,535.91 L150.88,534.98 L151.61,534.04 L152.34,533.10 L153.07,532.16 L153.80,531.22 L154.53,530.28 L155.25,529.34 L155.98,528.40 L156.70,527.46 L157.42,526.52 L158.14,525.57 L158.86,524.63 L159.58,523.68 L160.30,522.74 L161.02,521.79 L161.73,520.85 L162.45,519.90 L163.16,518.95 L163.88,518.00 L164.59,517.06 L165.30,516.11 L166.02,515.16 L166.73,514.21 L167.44,513.27 L168.15,512.32 L168.87,511.37 L169.58,510.42 L170.29,509.47 L171.00,508.52 L171.71,507.58 L172.43,506.63 L173.14,505.68 L173.85,504.73 L174.56,503.79 L175.28,502.84 L175.99,501.89 L176.71,500.95 L177.42,500.00 L178.14,499.06 L178.85,498.11 L179.57,497.17 L180.29,496.22 L181.01,495.28 L181.73,494.34 L182.45,493.40 L183.17,492.46 L183.90,491.52 L184.62,490.58 L185.35,489.64 L186.07,488.70 L186.80,487.77 L187.53,486.83 L188.27,485.90 L189.00,484.97 L189.73,484.04 L190.47,483.11 L191.21,482.18 L191.95,481.25 L192.69,480.32 L193.44,479.40 L194.19,478.47 L194.94,477.55 L195.69,476.63 L196.44,475.71 L197.20,474.79 L197.95,473.88 L198.71,472.96 L199.48,472.05 L200.24,471.14 L201.01,470.23 L201.78,469.32 L202.56,468.42 L203.34,467.51 L204.11,466.61 L204.90,465.71 L205.68,464.81 L206.47,463.92 L207.26,463.02 L208.06,462.13 L208.86,461.24 L209.66,460.36 L210.47,459.47 L211.28,458.59 L212.09,457.71 L212.90,456.83 L213.72,455.96 L214.55,455.08 L215.38,454.21 L216.21,453.35 L217.04,452.48 L217.88,451.62 L218.72,450.76 L219.57,449.90 L220.42,449.05 L221.28,448.20 L222.14,447.35 L223.00,446.50 L223.87,445.66 L224.75,444.82 L225.62,443.99 L226.51,443.15 L227.40,442.32 L228.29,441.50 L229.19,440.67 L230.08,439.86" stroke="#ff0000" stroke-width="5.0" stroke-dasharray="1.28 1.42" stroke-dashoffset="-0.0" fill="none"/>
<path d="M100.35,538.91 L100.59,539.20 L100.82,539.50 L101.05,539.80 L101.28,540.10 L101.51,540.41 L101.73,540.71 L101.96,541.03 L102.18,541.34 L102.40,541.66 L102.62,541.98 L102.83,542.30 L103.05,542.62 L103.27,542.95 L103.48,543.28 L103.70,543.60 L103.91,543.93 L104.12,544.27 L104.34,544.60 L104.55,544.93 L104.76,545.27 L104.98,545.60 L105.19,545.94 L105.41,546.27 L105.62,546.61 L105.84,546.94 L106.06,547.28 L106.28,547.61 L106.50,547.95 L106.72,548.28 L106.94,548.61 L107.17,548.95 L107.40,549.28 L107.63,549.61 L107.86,549.93 L108.09,550.26 L108.33,550.59 L108.57,550.91 L108.81,551.23 L109.06,551.55 L109.31,551.87 L109.56,552.18 L109.81,552.49 L110.07,552.80 L110.34,553.10 L110.60,553.41 L110.88,553.71 L111.15,554.00 L111.43,554.29 L111.72,554.58 L112.00,554.87 L112.30,555.15 L112.60,555.42 L112.90,555.69 L113.21,555.96 L113.52,556.22 L113.83,556.48 L114.15,556.73 L114.47,556.98 L114.80,557.22 L115.13,557.46 L115.47,557.69 L115.80,557.91 L116.14,558.13 L116.49,558.34 L116.83,558.55 L117.19,558.75 L117.54,558.94 L117.89,559.13 L118.25,559.31 L118.62,559.48 L118.98,559.64 L119.35,559.80 L119.71,559.95 L120.09,560.09 L120.46,560.23 L120.84,560.35 L121.21,560.47 L121.59,560.58 L121.97,560.68 L122.36,560.78 L122.74,560.86 L123.13,560.93 L123.51,561.00 L123.90,561.05 L124.29,561.10 L124.68,561.14 L125.07,561.17 L125.47,561.19 L125.86,561.20 L126.25,561.20 L126.64,561.19 L127.03,561.17 L127.42,561.14 L127.81,561.11 L128.19,561.06 L128.58,561.01 L128.96,560.95 L129.34,560.88 L129.72,560.80 L130.09,560.71 L130.46,560.61 L130.83,560.51 L131.20,560.39 L131.56,560.27 L131.92,560.13 L132.27,559.99 L132.62,559.84 L132.96,559.69 L133.30,559.52 L133.64,559.34 L133.97,559.16 L134.29,558.97 L134.62,558.77 L134.93,558.57 L135.25,558.36 L135.56,558.14 L135.86,557.91 L136.17,557.68 L136.47,557.45 L136.76,557.20 L137.06,556.96 L137.35,556.70 L137.63,556.44 L137.92,556.18 L138.20,555.91 L138.48,555.64 L138.75,555.36 L139.03,555.08 L139.30,554.80 L139.57,554.51 L139.84,554.22 L140.11,553.93 L140.37,553.63 L140.64,553.34 L140.90,553.04 L141.16,552.73 L141.42,552.43 L141.68,552.12 L141.93,551.82 L142.19,551.51 L142.45,551.20 L142.70,550.89 L142.96,550.58 L143.22,550.28 L143.47,549.97 L143.73,549.66 L143.98,549.35 L144.23,549.04 L144.49,548.73 L144.74,548.42 L145.00,548.11 L145.25,547.80 L145.50,547.49 L145.75,547.18 L146.01,546.87 L146.26,546.55 L146.51,546.24 L146.76,545.93 L147.01,545.62 L147.26,545.31 L147.51,545.00 L147.76,544.69 L148.01,544.38 L148.26,544.06 L148.51,543.75 L148.76,543.44 L149.01,543.13 L149.26,542.81 L149.51,542.50 L149.76,542.19 L150.01,541.88 L150.25,541.56 L150.50,541.25 L150.75,540.94 L151.00,540.62 L151.24,540.31 L151.49,540.00 L151.74,539.68 L151.98,539.37 L152.23,539.06 L152.48,538.74 L152.72,538.43 L152.97,538.12 L153.21,537.80 L153.46,537.49 L153.70,537.17 L153.95,536.86 L154.19,536.54 L154.44,536.23 L154.68,535.92 L154.92,535.60 L155.17,535.29 L155.41,534.97 L155.65,534.66 L155.90,534.34 L156.14,534.03 L156.38,533.71 L156.63,533.40 L156.87,533.08 L157.11,532.77 L157.35,532.45 L157.59,532.13 L157.84,531.82 L158.08,531.50 L158.32,531.19 L158.56,530.87 L158.80,530.56 L159.04,530.24 L159.28,529.92 L159.52,529.61 L159.76,529.29 L160.00,528.98 L160.25,528.66 L160.49,528.34 L160.73,528.03 L160.97,527.71 L161.20,527.40 L161.44,527.08 L161.68,526.76 L161.92,526.45 L162.16,526.13 L162.40,525.81 L162.64,525.50 L162.88,525.18 L163.12,524.86 L163.36,524.55 L163.60,524.23 L163.83,523.91 L164.07,523.60 L164.31,523.28 L164.55,522.96 L164.79,522.65 L165.03,522.33 L165.26,522.01 L165.50,521.69 L165.74,521.38 L165.98,521.06 L166.21,520.74 L166.45,520.43 L166.69,520.11 L166.93,519.79 L167.16,519.48 L167.40,519.16 L167.64,518.84 L167.87,518.53 L168.11,518.21 L168.35,517.89 L168.59,517.57 L168.82,517.26 L169.06,516.94 L169.30,516.62 L169.53,516.31 L169.77,515.99 L170.01,515.67 L170.24,515.36 L170.48,515.04 L170.72,514.72 L170.95,514.40 L171.19,514.09 L171.42,513.77 L171.66,513.45 L171.90,513.14 L172.13,512.82 L172.37,512.50 L172.61,512.19 L172.84,511.87 L173.08,511.55 L173.32,511.24 L173.55,510.92 L173.79,510.60 L174.02,510.29 L174.26,509.97 L174.50,509.65 L174.73,509.34 L174.97,509.02 L175.21,508.70 L175.44,508.39 L175.68,508.07 L175.91,507.75 L176.15,507.44 L176.39,507.12 L176.62,506.81 L176.86,506.49 L177.10,506.17 L177.33,505.86 L177.57,505.54 L177.81,505.23 L178.04,504.91 L178.28,504.59 L178.52,504.28 L178.75,503.96 L178.99,503.65 L179.23,503.33 L179.46,503.02 L179.70,502.70 L179.94,502.39 L180.17,502.07 L180.41,501.76 L180.65,501.44 L180.88,501.13 L181.12,500.81 L181.36,500.50 L181.60,500.18 L181.83,499.87 L182.07,499.55 L182.31,499.24 L182.55,498.92 L182.79,498.61 L183.02,498.29 L183.26,497.98 L183.50,497.67 L183.74,497.35 L183.98,497.04 L184.21,496.72 L184.45,496.41 L184.69,496.10 L184.93,495.78 L185.17,495.47 L185.41,495.16 L185.65,494.84 L185.89,494.53 L186.12,494.22 L186.36,493.91 L186.60,493.59 L186.84,493.28 L187.08,492.97 L187.32,492.66 L187.56,492.34 L187.80,492.03 L188.04,491.72 L188.28,491.41 L188.52,491.10 L188.76,490.78 L189.01,490.47 L189.25,490.16 L189.49,489.85 L189.73,489.54 L189.97,489.23 L190.21,488.92 L190.45,488.61 L190.70,488.30 L190.94,487.99 L191.18,487.68 L191.42,487.37 L191.67,487.06 L191.91,486.75 L192.15,486.44 L192.39,486.13 L192.64,485.82 L192.88,485.51 L193.12,485.20 L193.37,484.89 L193.61,484.58 L193.86,484.27 L194.10,483.96 L194.35,483.66 L194.59,483.35 L194.84,483.04 L195.08,482.73 L195.33,482.42 L195.57,482.12 L195.82,481.81 L196.06,481.50 L196.31,481.19 L196.56,480.89 L196.80,480.58 L197.05,480.27 L197.30,479.97 L197.55,479.66 L197.79,479.36 L198.04,479.05 L198.29,478.75 L198.54,478.44 L198.79,478.13 L199.03,477.83 L199.28,477.53 L199.53,477.22 L199.78,476.92 L200.03,476.61 L200.28,476.31 L200.53,476.00 L200.78,475.70 L201.03,475.40 L201.29,475.09 L201.54,474.79 L201.79,474.49 L202.04,474.19 L202.29,473.88 L202.55,473.58 L202.80,473.28 L203.05,472.98 L203.30,472.68 L203.56,472.37 L203.81,472.07 L204.07,471.77 L204.32,471.47 L204.58,471.17 L204.83,470.87 L205.09,470.57 L205.34,470.27 L205.60,469.97 L205.85,469.67 L206.11,469.37 L206.37,469.07 L206.62,468.78 L206.88,468.48 L207.14,468.18 L207.40,467.88 L207.66,467.58 L207.92,467.29 L208.17,466.99 L208.43,466.69 L208.69,466.39 L208.95,466.10 L209.21,465.80 L209.48,465.51 L209.74,465.21 L210.00,464.91 L210.26,464.62 L210.52,464.32 L210.78,464.03 L211.05,463.73 L211.31,463.44 L211.57,463.15 L211.84,462.85 L212.10,462.56 L212.37,462.27 L212.63,461.97 L212.90,461.68 L213.16,461.39 L213.43,461.10 L213.70,460.80 L213.96,460.51 L214.23,460.22 L214.50,459.93 L214.77,459.64 L215.04,459.35 L215.30,459.06 L215.57,458.77 L215.84,458.48 L216.11,458.19 L216.38,457.90 L216.65,457.61 L216.93,457.32 L217.20,457.04 L217.47,456.75 L217.74,456.46 L218.02,456.17 L218.29,455.89 L218.56,455.60 L218.84,455.31 L219.11,455.03 L219.39,454.74 L219.66,454.46 L219.94,454.17 L220.21,453.89 L220.49,453.60 L220.77,453.32 L221.05,453.03 L221.32,452.75 L221.60,452.47 L221.88,452.18 L222.16,451.90 L222.44,451.62 L222.72,451.34 L223.00,451.06 L223.28,450.77 L223.56,450.49 L223.85,450.21 L224.13,449.93 L224.41,449.65 L224.70,449.37 L224.98,449.09 L225.26,448.81 L225.55,448.53 L225.84,448.26 L226.12,447.98 L226.41,447.70 L226.69,447.42 L226.98,447.15 L227.27,446.87 L227.56,446.59 L227.85,446.32 L228.14,446.04 L228.43,445.77 L228.72,445.49 L229.01,445.22 L229.30,444.94 L229.59,444.67 L229.88,444.40 L230.18,444.12 L230.47,443.85 L230.76,443.58 L231.06,443.31 L231.35,443.03 L231.65,442.76 L231.95,442.49 L232.24,442.22 L232.54,441.95" stroke="#000" stroke-width="1.4" fill="none"/>
<g clip-path="url(#cp)"><path d="M96.38,580.25 L97.04,578.02 L97.40,576.84 L97.75,575.65 L98.09,574.47 L98.43,573.28 L98.77,572.09 L99.11,570.90 L99.45,569.70 L99.78,568.51 L100.11,567.31 L100.44,566.11 L100.76,564.91 L101.08,563.71 L101.40,562.51 L101.72,561.31 L102.04,560.10 L102.36,558.90 L102.67,557.69 L102.98,556.48 L103.29,555.27 L103.60,554.06 L103.91,552.85 L104.22,551.64 L104.53,550.43 L104.83,549.21 L105.14,548.00 L105.44,546.78 L105.75,545.57 L106.05,544.35 L106.35,543.13 L106.66,541.92 L106.96,540.70 L107.26,539.48 L107.57,538.26 L107.87,537.04 L108.18,535.82 L108.48,534.60 L108.79,533.38 L109.09,532.16 L109.40,530.94 L109.71,529.72 L110.02,528.50 L110.33,527.28 L110.64,526.06 L110.95,524.84 L111.26,523.62 L111.58,522.40 L111.90,521.18 L112.22,519.96 L112.54,518.74 L112.86,517.52 L113.19,516.30 L113.52,515.09 L113.85,513.87 L114.18,512.65 L114.52,511.44 L114.85,510.22 L115.20,509.01 L115.54,507.79 L115.89,506.58 L116.24,505.36 L116.59,504.15 L116.95,502.94 L117.31,501.73 L117.68,500.52 L118.04,499.32 L118.42,498.11 L118.79,496.90 L119.17,495.70 L119.56,494.50 L119.95,493.30 L120.34,492.09 L120.74,490.90 L121.14,489.70 L121.55,488.50 L121.96,487.31 L122.38,486.12 L122.80,484.92 L123.23,483.73 L123.66,482.55 L124.10,481.36 L124.55,480.18 L125.00,478.99 L125.45,477.81 L125.92,476.63 L126.38,475.46 L126.86,474.28 L127.34,473.11 L127.83,471.94 L128.32,470.77 L128.82,469.61 L129.33,468.44 L129.84,467.28 L130.36,466.12 L130.89,464.97 L131.42,463.82 L131.96,462.67 L132.51,461.52 L133.06,460.38 L133.62,459.24 L134.18,458.10 L134.75,456.97 L135.31,455.84 L135.88,454.72 L136.46,453.59 L137.03,452.47 L137.61,451.35 L138.18,450.23 L138.76,449.11 L139.33,448.00 L139.91,446.88 L140.48,445.77 L141.05,444.66 L141.62,443.54 L142.19,442.43 L142.75,441.32 L143.31,440.21 L143.86,439.10 L144.41,437.98 L144.96,436.87 L145.50,435.75 L146.04,434.64 L146.57,433.51 L147.10,432.39 L147.62,431.27 L148.14,430.14 L148.66,429.02 L149.17,427.89 L149.68,426.76 L150.18,425.62 L150.68,424.49 L151.17,423.35 L151.66,422.21 L152.15,421.07 L152.63,419.93 L153.11,418.78 L153.58,417.64 L154.05,416.49 L154.52,415.34 L154.98,414.19 L155.45,413.03 L155.90,411.88 L156.36,410.72 L156.81,409.56 L157.26,408.39 L157.71,407.23 L158.16,406.07 L158.61,404.90 L159.06,403.73 L159.50,402.56 L159.95,401.39 L160.40,400.22 L160.85,399.05 L161.29,397.88 L161.74,396.71 L162.19,395.53 L162.64,394.36 L163.10,393.19 L163.55,392.02 L164.01,390.84 L164.47,389.67 L164.93,388.50 L165.40,387.33 L165.87,386.15 L166.34,384.98 L166.82,383.82" stroke="#0000ff" stroke-width="4.6" stroke-dasharray="1.22 1.36" stroke-dashoffset="-0.0" fill="none"/></g>
<path d="M100.83,580.00 L100.95,579.60 L101.07,579.20 L101.18,578.80 L101.30,578.40 L101.42,578.00 L101.53,577.60 L101.65,577.20 L101.76,576.81 L101.88,576.41 L101.99,576.01 L102.10,575.61 L102.22,575.21 L102.33,574.81 L102.44,574.40 L102.56,574.00 L102.67,573.60 L102.78,573.20 L102.89,572.80 L103.00,572.40 L103.11,572.00 L103.22,571.60 L103.33,571.20 L103.44,570.79 L103.55,570.39 L103.66,569.99 L103.77,569.59 L103.88,569.19 L103.99,568.78 L104.10,568.38 L104.21,567.98 L104.31,567.58 L104.42,567.17 L104.53,566.77 L104.63,566.37 L104.74,565.96 L104.85,565.56 L104.95,565.16 L105.06,564.75 L105.17,564.35 L105.27,563.95 L105.38,563.54 L105.48,563.14 L105.59,562.74 L105.69,562.33 L105.79,561.93 L105.90,561.52 L106.00,561.12 L106.11,560.71 L106.21,560.31 L106.31,559.91 L106.42,559.50 L106.52,559.10 L106.62,558.69 L106.72,558.29 L106.83,557.88 L106.93,557.48 L107.03,557.07 L107.13,556.67 L107.23,556.26 L107.34,555.86 L107.44,555.45 L107.54,555.04 L107.64,554.64 L107.74,554.23 L107.84,553.83 L107.94,553.42 L108.04,553.02 L108.14,552.61 L108.24,552.21 L108.34,551.80 L108.44,551.39 L108.54,550.99 L108.64,550.58 L108.74,550.18 L108.84,549.77 L108.94,549.36 L109.04,548.96 L109.14,548.55 L109.24,548.14 L109.34,547.74 L109.44,547.33 L109.54,546.92 L109.64,546.52 L109.74,546.11 L109.84,545.71 L109.94,545.30 L110.04,544.89 L110.13,544.49 L110.23,544.08 L110.33,543.67 L110.43,543.27 L110.53,542.86 L110.63,542.45 L110.73,542.05 L110.83,541.64 L110.93,541.23 L111.02,540.83 L111.12,540.42 L111.22,540.01 L111.32,539.61 L111.42,539.20 L111.52,538.79 L111.62,538.39 L111.72,537.98 L111.82,537.57 L111.92,537.17 L112.01,536.76 L112.11,536.35 L112.21,535.95 L112.31,535.54 L112.41,535.13 L112.51,534.73 L112.61,534.32 L112.71,533.91 L112.81,533.51 L112.91,533.10 L113.01,532.69 L113.11,532.29 L113.21,531.88 L113.31,531.47 L113.41,531.07 L113.51,530.66 L113.61,530.25 L113.71,529.85 L113.81,529.44 L113.91,529.04 L114.01,528.63 L114.11,528.22 L114.21,527.82 L114.32,527.41 L114.42,527.01 L114.52,526.60 L114.62,526.19 L114.72,525.79 L114.82,525.38 L114.93,524.98 L115.03,524.57 L115.13,524.16 L115.23,523.76 L115.34,523.35 L115.44,522.95 L115.54,522.54 L115.65,522.14 L115.75,521.73 L115.85,521.33 L115.96,520.92 L116.06,520.52 L116.17,520.11 L116.27,519.71 L116.38,519.30 L116.48,518.90 L116.59,518.49 L116.69,518.09 L116.80,517.68 L116.90,517.28 L117.01,516.88 L117.12,516.47 L117.22,516.07 L117.33,515.66 L117.44,515.26 L117.55,514.86 L117.65,514.45 L117.76,514.05 L117.87,513.64 L117.98,513.24 L118.09,512.84 L118.20,512.43 L118.31,512.03 L118.42,511.63 L118.53,511.23 L118.64,510.82 L118.75,510.42 L118.86,510.02 L118.97,509.62 L119.08,509.21 L119.19,508.81 L119.31,508.41 L119.42,508.01 L119.53,507.60 L119.65,507.20 L119.76,506.80 L119.87,506.40 L119.99,506.00 L120.10,505.60 L120.22,505.20 L120.33,504.80 L120.45,504.39 L120.57,503.99 L120.68,503.59 L120.80,503.19 L120.92,502.79 L121.03,502.39 L121.15,501.99 L121.27,501.59 L121.39,501.19 L121.51,500.79 L121.63,500.40 L121.75,500.00 L121.87,499.60 L121.99,499.20 L122.11,498.80 L122.24,498.40 L122.36,498.00 L122.48,497.60 L122.60,497.21 L122.73,496.81 L122.85,496.41 L122.98,496.01 L123.10,495.62 L123.23,495.22 L123.35,494.82 L123.48,494.43 L123.61,494.03 L123.74,493.63 L123.86,493.24 L123.99,492.84 L124.12,492.44 L124.25,492.05 L124.38,491.65 L124.51,491.26 L124.64,490.86 L124.77,490.47 L124.91,490.07 L125.04,489.68 L125.17,489.28 L125.31,488.89 L125.44,488.50 L125.58,488.10 L125.71,487.71 L125.85,487.32 L125.98,486.92 L126.12,486.53 L126.26,486.14 L126.40,485.74 L126.53,485.35 L126.67,484.96 L126.81,484.57 L126.95,484.18 L127.09,483.79 L127.24,483.39 L127.38,483.00 L127.52,482.61 L127.66,482.22 L127.81,481.83 L127.95,481.44 L128.10,481.05 L128.24,480.66 L128.39,480.27 L128.54,479.89 L128.69,479.50 L128.83,479.11 L128.98,478.72 L129.13,478.33 L129.28,477.94 L129.43,477.56 L129.59,477.17 L129.74,476.78 L129.89,476.40 L130.05,476.01 L130.20,475.62 L130.35,475.24 L130.51,474.85 L130.67,474.46 L130.82,474.08 L130.98,473.69 L131.14,473.31 L131.30,472.93 L131.46,472.54 L131.62,472.16 L131.78,471.77 L131.94,471.39 L132.11,471.01 L132.27,470.62 L132.43,470.24 L132.60,469.86 L132.76,469.48 L132.93,469.10 L133.10,468.71 L133.27,468.33 L133.43,467.95 L133.60,467.57 L133.77,467.19 L133.95,466.81 L134.12,466.43 L134.29,466.05 L134.46,465.67 L134.64,465.30 L134.81,464.92 L134.99,464.54 L135.16,464.16 L135.34,463.78 L135.52,463.41 L135.70,463.03 L135.88,462.65 L136.05,462.28 L136.24,461.90 L136.42,461.52 L136.60,461.15 L136.78,460.77 L136.96,460.40 L137.14,460.02 L137.33,459.64 L137.51,459.27 L137.70,458.89 L137.88,458.52 L138.07,458.15 L138.25,457.77 L138.44,457.40 L138.62,457.02 L138.81,456.65 L139.00,456.28 L139.19,455.90 L139.37,455.53 L139.56,455.15 L139.75,454.78 L139.94,454.41 L140.13,454.03 L140.31,453.66 L140.50,453.29 L140.69,452.91 L140.88,452.54 L141.07,452.17 L141.26,451.80 L141.45,451.42 L141.64,451.05 L141.83,450.68 L142.02,450.30 L142.21,449.93 L142.40,449.56 L142.59,449.19 L142.78,448.81 L142.97,448.44 L143.16,448.07 L143.35,447.69 L143.54,447.32 L143.73,446.95 L143.92,446.57 L144.10,446.20 L144.29,445.83 L144.48,445.45 L144.67,445.08 L144.86,444.71 L145.05,444.33 L145.23,443.96 L145.42,443.58 L145.61,443.21 L145.79,442.84 L145.98,442.46 L146.17,442.09 L146.35,441.71 L146.54,441.34 L146.72,440.96 L146.90,440.59 L147.09,440.21 L147.27,439.83 L147.45,439.46 L147.64,439.08 L147.82,438.71 L148.00,438.33 L148.18,437.95 L148.36,437.58 L148.54,437.20 L148.72,436.82 L148.90,436.44 L149.08,436.07 L149.25,435.69 L149.43,435.31 L149.61,434.93 L149.78,434.55 L149.96,434.17 L150.14,433.80 L150.31,433.42 L150.49,433.04 L150.66,432.66 L150.83,432.28 L151.01,431.90 L151.18,431.52 L151.35,431.14 L151.52,430.76 L151.69,430.38 L151.86,429.99 L152.03,429.61 L152.20,429.23 L152.37,428.85 L152.54,428.47 L152.71,428.09 L152.88,427.70 L153.04,427.32 L153.21,426.94 L153.38,426.56 L153.54,426.17 L153.71,425.79 L153.87,425.41 L154.04,425.02 L154.20,424.64 L154.36,424.26 L154.53,423.87 L154.69,423.49 L154.85,423.10 L155.01,422.72 L155.17,422.33 L155.33,421.95 L155.49,421.56 L155.65,421.18 L155.81,420.79 L155.97,420.41 L156.13,420.02 L156.29,419.63 L156.44,419.25 L156.60,418.86 L156.76,418.47 L156.91,418.09 L157.07,417.70 L157.22,417.31 L157.38,416.92 L157.53,416.54 L157.69,416.15 L157.84,415.76 L157.99,415.37 L158.15,414.98 L158.30,414.60 L158.45,414.21 L158.60,413.82 L158.75,413.43 L158.91,413.04 L159.06,412.65 L159.21,412.26 L159.36,411.87 L159.51,411.48 L159.66,411.09 L159.81,410.70 L159.96,410.31 L160.10,409.92 L160.25,409.53 L160.40,409.14 L160.55,408.75 L160.70,408.36 L160.85,407.97 L160.99,407.58 L161.14,407.19 L161.29,406.80 L161.44,406.41 L161.59,406.02 L161.73,405.63 L161.88,405.24 L162.03,404.85 L162.17,404.46 L162.32,404.07 L162.47,403.68 L162.61,403.28 L162.76,402.89 L162.91,402.50 L163.05,402.11 L163.20,401.72 L163.35,401.33 L163.49,400.94 L163.64,400.55 L163.79,400.16 L163.94,399.77 L164.08,399.37 L164.23,398.98 L164.38,398.59 L164.52,398.20 L164.67,397.81 L164.82,397.42 L164.97,397.03 L165.11,396.64 L165.26,396.25 L165.41,395.86 L165.56,395.47 L165.71,395.08 L165.85,394.69 L166.00,394.30 L166.15,393.91 L166.30,393.52 L166.45,393.13 L166.60,392.74 L166.75,392.35 L166.90,391.96 L167.05,391.57 L167.20,391.18 L167.35,390.79 L167.50,390.40 L167.65,390.01 L167.80,389.62 L167.96,389.23 L168.11,388.84 L168.26,388.45 L168.41,388.06 L168.57,387.67 L168.72,387.29 L168.88,386.90 L169.03,386.51 L169.19,386.12 L169.34,385.73 L169.50,385.35 L169.65,384.96 L169.81,384.57 L169.97,384.19" stroke="#000" stroke-width="1.4" fill="none" clip-path="url(#cp)"/>
<text x="48.0" y="674.7" font-size="11.4" text-anchor="middle" fill="#2a2a2a" letter-spacing="0.7" dx="0.35">100</text>
<text x="100.7" y="674.7" font-size="11.4" text-anchor="middle" fill="#2a2a2a" letter-spacing="0.7" dx="0.35">200</text>
<text x="153.4" y="674.7" font-size="11.4" text-anchor="middle" fill="#2a2a2a" letter-spacing="0.7" dx="0.35">300</text>
<text x="206.1" y="674.7" font-size="11.4" text-anchor="middle" fill="#2a2a2a" letter-spacing="0.7" dx="0.35">400</text>
<text x="258.8" y="674.7" font-size="11.4" text-anchor="middle" fill="#2a2a2a" letter-spacing="0.7" dx="0.35">500</text>
<text x="311.5" y="674.7" font-size="11.4" text-anchor="middle" fill="#2a2a2a" letter-spacing="0.7" dx="0.35">600</text>
<text x="27.4" y="639.6" font-size="11.4" text-anchor="end" fill="#2a2a2a" letter-spacing="0.9" dx="0.9">5</text>
<text x="27.4" y="611.9" font-size="11.4" text-anchor="end" fill="#2a2a2a" letter-spacing="0.9" dx="0.9">10</text>
<text x="27.4" y="584.2" font-size="11.4" text-anchor="end" fill="#2a2a2a" letter-spacing="0.9" dx="0.9">15</text>
<text x="27.4" y="556.5" font-size="11.4" text-anchor="end" fill="#2a2a2a" letter-spacing="0.9" dx="0.9">20</text>
<text x="27.4" y="528.8" font-size="11.4" text-anchor="end" fill="#2a2a2a" letter-spacing="0.9" dx="0.9">25</text>
<text x="27.4" y="501.1" font-size="11.4" text-anchor="end" fill="#2a2a2a" letter-spacing="0.9" dx="0.9">30</text>
<text x="27.4" y="473.4" font-size="11.4" text-anchor="end" fill="#2a2a2a" letter-spacing="0.9" dx="0.9">35</text>
<text x="27.4" y="445.7" font-size="11.4" text-anchor="end" fill="#2a2a2a" letter-spacing="0.9" dx="0.9">40</text>
<text x="27.4" y="418.0" font-size="11.4" text-anchor="end" fill="#2a2a2a" letter-spacing="0.9" dx="0.9">45</text>
<text x="27.4" y="390.3" font-size="11.4" text-anchor="end" fill="#2a2a2a" letter-spacing="0.9" dx="0.9">50</text>
<text transform="translate(199.3,689) scale(0.84,1)" font-size="17" fill="#2a2a2a">m</text><text x="211.3" y="691.8" font-size="8.5" font-weight="bold" fill="#2a2a2a">A</text><text transform="translate(223.8,689) scale(0.905,1)" font-size="17.2" fill="#2a2a2a">(GeV)</text>
<text transform="translate(11.3,490) rotate(-90)" font-size="16.5" fill="#2a2a2a" letter-spacing="1">tan <tspan font-style="italic">β</tspan></text>
<text x="196" y="581" font-size="16.6" fill="#ff2a2a" letter-spacing="0.4">CMS, 30 fb<tspan font-size="10.5" dy="-6.5">−1</tspan></text>
<text x="175" y="603.2" font-size="14.6" fill="#2a2a2a" letter-spacing="1">maximal stop mixing</text>
<text x="196" y="625" font-size="14.6" fill="#2a2a2a" letter-spacing="0.7">M<tspan font-size="7.5" font-weight="bold" dy="2.5" letter-spacing="0">SUSY</tspan><tspan dy="-2.5"> = 1 TeV</tspan></text>
<text x="206.5" y="659" font-size="10.5" fill="#1c1cee" letter-spacing="0.58">Excluded by LEP</text>
<g transform="translate(58.8,536) rotate(-90)" fill="#222" stroke="none"><text x="0.20" y="0" font-size="9.3" letter-spacing="1.7">tt,</text><text x="15.20" y="0" font-size="9.3" letter-spacing="0.0">t</text><path d="M20.00,-3.50h14M29.86,-6.97L34.00,-3.50L29.86,-0.03" stroke="#222" stroke-width="0.85" fill="none" stroke-linejoin="miter"/><text x="36.00" y="0" font-size="9.3" letter-spacing="0.0">H</text><text x="42.60" y="-6.2" font-size="11" letter-spacing="0.0">±</text><text x="50.50" y="0" font-size="9.3" letter-spacing="0.6">b,</text><text x="63.50" y="0" font-size="9.3" letter-spacing="0.0">H</text><text x="70.10" y="-6.2" font-size="11" letter-spacing="0.0">±</text><path d="M81.00,-3.50h12.5M89.36,-6.97L93.50,-3.50L89.36,-0.03" stroke="#222" stroke-width="0.85" fill="none" stroke-linejoin="miter"/><text x="99.00" y="0" font-size="11" letter-spacing="1.8" font-style="italic">τν</text></g>
<g transform="translate(100.9,525) rotate(-69)" fill="#222" stroke="none"><text x="0.00" y="0" font-size="11.5" letter-spacing="0.6">qq</text><path d="M19.50,-4.60h14.5M28.94,-8.84L34.00,-4.60L28.94,-0.36" stroke="#222" stroke-width="0.95" fill="none" stroke-linejoin="miter"/><text x="44.00" y="0" font-size="11.5" letter-spacing="0.0">H</text><text x="54.00" y="-7.8" font-size="13.5" letter-spacing="0.0">±</text><path d="M65.00,-4.60h14.8M74.74,-8.84L79.80,-4.60L74.74,-0.36" stroke="#222" stroke-width="0.95" fill="none" stroke-linejoin="miter"/><text x="87.00" y="0" font-size="13.5" letter-spacing="2.2" font-style="italic">τν</text></g>
<g transform="translate(150.8,527.2) rotate(-49.5)" fill="#222" stroke="none"><text x="2.50" y="0.525" font-size="11.5" letter-spacing="0.0">t</text><text x="8.30" y="0.11899999999999997" font-size="11.5" letter-spacing="0.0">H</text><text x="17.60" y="-8.332" font-size="13.5" letter-spacing="0.0">±</text><text x="27.60" y="-1.2320000000000002" font-size="11.5" letter-spacing="0.0">,</text><text x="35.40" y="-1.778" font-size="11.5" letter-spacing="0.0">H</text><text x="46.50" y="-10.355" font-size="13.5" letter-spacing="0.0">±</text><path d="M59.50,-8.06h15.3M69.74,-12.31L74.80,-8.06L69.74,-3.82" stroke="#222" stroke-width="0.95" fill="none" stroke-linejoin="miter"/><text x="81.50" y="-5.005000000000001" font-size="11.5" letter-spacing="0.8">tb</text></g>
<g transform="translate(225.5,508.5) rotate(-45)" fill="#222" stroke="none"><text x="2.50" y="0" font-size="11.5" letter-spacing="0.0">t</text><text x="8.30" y="0" font-size="11.5" letter-spacing="0.0">H</text><text x="17.60" y="-7.8" font-size="13.5" letter-spacing="0.0">±</text><text x="28.00" y="0" font-size="11.5" letter-spacing="0.0">,</text><text x="36.30" y="0" font-size="11.5" letter-spacing="0.0">H</text><text x="47.60" y="-7.8" font-size="13.5" letter-spacing="0.0">±</text><path d="M60.40,-4.60h15.3M70.64,-8.84L75.70,-4.60L70.64,-0.36" stroke="#222" stroke-width="0.95" fill="none" stroke-linejoin="miter"/><text x="85.50" y="-1" font-size="13.5" letter-spacing="2.2" font-style="italic">τν</text></g>
</svg>
</body></html>
